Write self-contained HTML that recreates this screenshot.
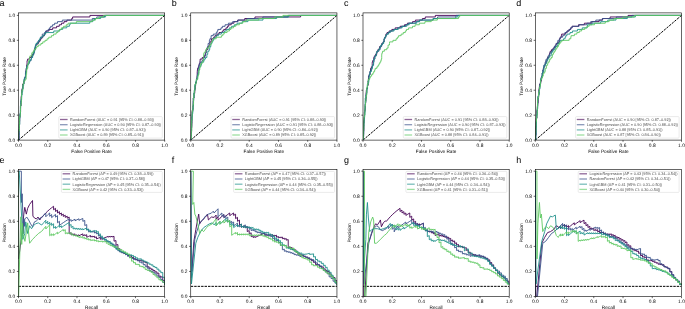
<!DOCTYPE html>
<html><head><meta charset="utf-8"><style>
html,body{margin:0;padding:0;background:#fff;}
svg{display:block;font-family:"Liberation Sans", sans-serif;will-change:transform;text-rendering:geometricPrecision;}
</style></head><body>
<svg width="685" height="309" viewBox="0 0 685 309">
<rect width="685" height="309" fill="#fff"/>
<text transform="translate(-0.45,6.10) skewX(0.06)" font-size="9" fill="#000">a</text>
<clipPath id="cp00"><rect x="18.5" y="12.9" width="146.2" height="127.19999999999999"/></clipPath>
<g clip-path="url(#cp00)">
<line x1="18.50" y1="140.10" x2="164.70" y2="15.40" stroke="#000" stroke-width="1.0" stroke-dasharray="2.45 1.0"/>
<polyline points="18.50,140.10 18.50,138.54 19.00,138.54 19.00,136.98 19.00,135.42 19.00,133.86 19.00,132.31 19.00,130.75 19.09,130.75 19.09,129.19 19.32,129.19 19.32,127.63 19.32,126.07 19.32,124.51 19.58,124.51 19.58,122.95 19.58,121.39 19.69,121.39 19.69,119.84 19.69,118.28 19.69,116.72 20.01,116.72 20.01,115.16 20.01,113.60 20.51,113.60 20.51,112.04 20.58,112.04 20.58,110.48 20.58,108.92 20.58,107.37 20.58,105.81 21.12,105.81 21.12,104.25 21.12,102.69 21.12,101.13 21.12,99.57 21.12,98.01 21.12,96.45 21.45,96.45 21.45,94.90 21.71,94.90 21.71,93.34 21.71,91.78 21.83,91.78 21.83,90.22 22.03,90.22 22.03,88.66 22.53,88.66 22.53,87.10 22.61,87.10 22.61,85.54 22.61,83.98 23.84,83.98 23.84,82.43 23.84,80.87 24.43,80.87 24.43,79.31 24.44,79.31 24.44,77.75 25.56,77.75 25.56,76.19 25.59,76.19 25.59,74.63 25.59,73.07 25.59,71.51 25.96,71.51 25.96,69.96 26.12,69.96 26.12,68.40 26.57,68.40 26.57,66.84 26.57,65.28 26.97,65.28 26.97,63.72 27.06,63.72 27.06,62.16 27.06,60.60 27.63,60.60 27.63,59.04 29.55,59.04 29.55,57.49 31.37,57.49 31.37,55.93 32.22,55.93 32.22,54.37 33.56,54.37 33.56,52.81 33.80,52.81 33.80,51.25 34.42,51.25 34.42,49.69 35.44,49.69 35.44,48.13 35.44,46.57 35.47,46.57 35.47,45.02 37.12,45.02 37.12,43.46 38.52,43.46 38.52,41.90 39.69,41.90 39.69,40.34 40.54,40.34 40.54,38.78 41.79,38.78 41.79,37.22 43.04,37.22 43.04,35.66 44.52,35.66 44.52,34.10 45.27,34.10 45.27,32.55 46.16,32.55 46.16,30.99 49.03,30.99 49.03,29.43 52.66,29.43 52.66,27.87 56.58,27.87 56.58,26.31 59.26,26.31 59.26,24.75 61.46,24.75 61.46,23.19 64.00,23.19 64.00,21.63 66.88,21.63 66.88,20.08 71.70,20.08 71.70,18.52 72.63,18.52 72.63,16.96 89.93,16.96 89.93,15.40 164.70,15.40" fill="none" stroke="#440154" stroke-width="1.0" stroke-opacity="0.9" stroke-linejoin="miter"/>
<polyline points="18.50,140.10 19.06,140.10 19.06,138.54 19.12,138.54 19.12,136.98 19.12,135.42 19.12,133.86 19.17,133.86 19.17,132.31 19.17,130.75 19.17,129.19 19.17,127.63 19.17,127.63 19.17,126.07 19.24,126.07 19.24,124.51 19.28,124.51 19.28,122.95 19.28,121.39 19.31,121.39 19.31,119.84 19.38,119.84 19.38,118.28 19.89,118.28 19.89,116.72 20.33,116.72 20.33,115.16 20.39,115.16 20.39,113.60 20.39,112.04 20.39,110.48 20.39,108.92 20.39,107.37 20.39,105.81 20.57,105.81 20.57,104.25 20.57,102.69 20.76,102.69 20.76,101.13 21.51,101.13 21.51,99.57 21.51,98.01 21.51,96.45 21.51,94.90 21.51,93.34 21.73,93.34 21.73,91.78 21.73,90.22 22.37,90.22 22.37,88.66 23.16,88.66 23.16,87.10 23.16,85.54 23.16,83.98 23.90,83.98 23.90,82.43 24.08,82.43 24.08,80.87 24.38,80.87 24.38,79.31 24.96,79.31 24.96,77.75 25.11,77.75 25.11,76.19 25.45,76.19 25.45,74.63 25.45,73.07 26.30,73.07 26.30,71.51 26.59,71.51 26.59,69.96 26.59,68.40 26.97,68.40 26.97,66.84 27.37,66.84 27.37,65.28 27.97,65.28 27.97,63.72 28.94,63.72 28.94,62.16 29.78,62.16 29.78,60.60 31.12,60.60 31.12,59.04 31.40,59.04 31.40,57.49 32.56,57.49 32.56,55.93 32.79,55.93 32.79,54.37 33.97,54.37 33.97,52.81 34.30,52.81 34.30,51.25 34.30,49.69 34.54,49.69 34.54,48.13 35.26,48.13 35.26,46.57 35.59,46.57 35.59,45.02 36.47,45.02 36.47,43.46 37.25,43.46 37.25,41.90 38.47,41.90 38.47,40.34 40.00,40.34 40.00,38.78 40.37,38.78 40.37,37.22 42.13,37.22 42.13,35.66 42.27,35.66 42.27,34.10 44.45,34.10 44.45,32.55 45.62,32.55 45.62,30.99 48.10,30.99 48.10,29.43 49.37,29.43 49.37,27.87 50.69,27.87 50.69,26.31 52.57,26.31 52.57,24.75 54.60,24.75 54.60,23.19 57.52,23.19 57.52,21.63 62.37,21.63 62.37,20.08 92.28,20.08 92.28,18.52 96.75,18.52 96.75,16.96 104.52,16.96 104.52,15.40 164.70,15.40" fill="none" stroke="#3b528b" stroke-width="1.0" stroke-opacity="0.9" stroke-linejoin="miter"/>
<polyline points="18.50,140.10 18.50,138.54 18.64,138.54 18.64,136.98 18.64,135.42 18.83,135.42 18.83,133.86 18.92,133.86 18.92,132.31 18.92,130.75 18.92,129.19 19.37,129.19 19.37,127.63 19.37,126.07 19.37,124.51 19.76,124.51 19.76,122.95 19.76,121.39 19.78,121.39 19.78,119.84 19.78,118.28 19.79,118.28 19.79,116.72 19.79,115.16 20.03,115.16 20.03,113.60 20.42,113.60 20.42,112.04 20.42,110.48 20.52,110.48 20.52,108.92 20.56,108.92 20.56,107.37 20.56,105.81 20.91,105.81 20.91,104.25 20.91,102.69 20.91,101.13 20.91,99.57 21.64,99.57 21.64,98.01 21.64,96.45 21.78,96.45 21.78,94.90 22.16,94.90 22.16,93.34 22.18,93.34 22.18,91.78 22.64,91.78 22.64,90.22 22.64,88.66 22.92,88.66 22.92,87.10 22.92,85.54 23.66,85.54 23.66,83.98 23.88,83.98 23.88,82.43 23.88,80.87 23.88,79.31 24.48,79.31 24.48,77.75 25.63,77.75 25.63,76.19 25.63,74.63 25.77,74.63 25.77,73.07 25.77,71.51 26.17,71.51 26.17,69.96 26.30,69.96 26.30,68.40 26.53,68.40 26.53,66.84 27.20,66.84 27.20,65.28 27.97,65.28 27.97,63.72 29.13,63.72 29.13,62.16 29.65,62.16 29.65,60.60 30.72,60.60 30.72,59.04 31.53,59.04 31.53,57.49 32.58,57.49 32.58,55.93 33.10,55.93 33.10,54.37 33.14,54.37 33.14,52.81 34.29,52.81 34.29,51.25 34.74,51.25 34.74,49.69 35.00,49.69 35.00,48.13 35.00,46.57 35.46,46.57 35.46,45.02 36.04,45.02 36.04,43.46 37.93,43.46 37.93,41.90 38.80,41.90 38.80,40.34 39.63,40.34 39.63,38.78 40.54,38.78 40.54,37.22 42.63,37.22 42.63,35.66 44.40,35.66 44.40,34.10 45.69,34.10 45.69,32.55 53.78,32.55 53.78,30.99 59.85,30.99 59.85,29.43 62.66,29.43 62.66,27.87 66.79,27.87 66.79,26.31 69.38,26.31 69.38,24.75 70.17,24.75 70.17,23.19 89.83,23.19 89.83,21.63 92.84,21.63 92.84,20.08 94.51,20.08 94.51,18.52 100.61,18.52 100.61,16.96 105.62,16.96 105.62,15.40 164.70,15.40" fill="none" stroke="#21918c" stroke-width="1.0" stroke-opacity="0.9" stroke-linejoin="miter"/>
<polyline points="18.50,140.10 18.50,138.54 18.50,136.98 18.53,136.98 18.53,135.42 18.53,133.86 18.53,132.31 18.73,132.31 18.73,130.75 19.40,130.75 19.40,129.19 19.40,127.63 19.40,126.07 19.40,124.51 19.40,122.95 19.40,121.39 19.40,119.84 19.40,118.28 19.40,116.72 20.25,116.72 20.25,115.16 20.25,115.16 20.25,113.60 20.35,113.60 20.35,112.04 20.46,112.04 20.46,110.48 20.46,108.92 20.46,107.37 20.63,107.37 20.63,105.81 20.88,105.81 20.88,104.25 21.15,104.25 21.15,102.69 21.34,102.69 21.34,101.13 21.34,99.57 21.34,98.01 21.57,98.01 21.57,96.45 21.57,94.90 21.57,93.34 21.90,93.34 21.90,91.78 21.90,90.22 22.87,90.22 22.87,88.66 23.00,88.66 23.00,87.10 23.00,85.54 23.00,83.98 23.92,83.98 23.92,82.43 23.92,80.87 25.18,80.87 25.18,79.31 26.19,79.31 26.19,77.75 26.19,76.19 26.19,74.63 26.60,74.63 26.60,73.07 26.64,73.07 26.64,71.51 26.64,69.96 26.96,69.96 26.96,68.40 27.78,68.40 27.78,66.84 27.78,65.28 27.78,63.72 28.56,63.72 28.56,62.16 28.56,62.16 28.56,60.60 29.26,60.60 29.26,59.04 29.59,59.04 29.59,57.49 29.90,57.49 29.90,55.93 31.71,55.93 31.71,54.37 31.81,54.37 31.81,52.81 33.14,52.81 33.14,51.25 34.01,51.25 34.01,49.69 35.63,49.69 35.63,48.13 36.63,48.13 36.63,46.57 38.28,46.57 38.28,45.02 40.93,45.02 40.93,43.46 42.79,43.46 42.79,41.90 45.02,41.90 45.02,40.34 47.10,40.34 47.10,38.78 48.78,38.78 48.78,37.22 51.42,37.22 51.42,35.66 53.56,35.66 53.56,34.10 56.14,34.10 56.14,32.55 57.89,32.55 57.89,30.99 59.31,30.99 59.31,29.43 61.40,29.43 61.40,27.87 63.56,27.87 63.56,26.31 66.23,26.31 66.23,24.75 68.08,24.75 68.08,23.19 76.35,23.19 76.35,21.63 92.17,21.63 92.17,20.08 95.54,20.08 95.54,18.52 98.93,18.52 98.93,16.96 103.53,16.96 103.53,15.40 164.70,15.40" fill="none" stroke="#5ec962" stroke-width="1.0" stroke-opacity="0.9" stroke-linejoin="miter"/>
</g>
<rect x="18.50" y="12.90" width="146.20" height="127.20" fill="none" stroke="#000" stroke-width="0.6"/>
<line x1="18.50" y1="140.10" x2="18.50" y2="141.75" stroke="#000" stroke-width="0.6"/>
<line x1="18.50" y1="140.10" x2="16.85" y2="140.10" stroke="#000" stroke-width="0.6"/>
<text transform="translate(18.50,146.60) skewX(0.06)" font-size="4.9" text-anchor="middle">0.0</text>
<text transform="translate(15.20,141.80) skewX(0.06)" font-size="4.9" text-anchor="end">0.0</text>
<line x1="47.74" y1="140.10" x2="47.74" y2="141.75" stroke="#000" stroke-width="0.6"/>
<line x1="18.50" y1="115.16" x2="16.85" y2="115.16" stroke="#000" stroke-width="0.6"/>
<text transform="translate(47.74,146.60) skewX(0.06)" font-size="4.9" text-anchor="middle">0.2</text>
<text transform="translate(15.20,116.86) skewX(0.06)" font-size="4.9" text-anchor="end">0.2</text>
<line x1="76.98" y1="140.10" x2="76.98" y2="141.75" stroke="#000" stroke-width="0.6"/>
<line x1="18.50" y1="90.22" x2="16.85" y2="90.22" stroke="#000" stroke-width="0.6"/>
<text transform="translate(76.98,146.60) skewX(0.06)" font-size="4.9" text-anchor="middle">0.4</text>
<text transform="translate(15.20,91.92) skewX(0.06)" font-size="4.9" text-anchor="end">0.4</text>
<line x1="106.22" y1="140.10" x2="106.22" y2="141.75" stroke="#000" stroke-width="0.6"/>
<line x1="18.50" y1="65.28" x2="16.85" y2="65.28" stroke="#000" stroke-width="0.6"/>
<text transform="translate(106.22,146.60) skewX(0.06)" font-size="4.9" text-anchor="middle">0.6</text>
<text transform="translate(15.20,66.98) skewX(0.06)" font-size="4.9" text-anchor="end">0.6</text>
<line x1="135.46" y1="140.10" x2="135.46" y2="141.75" stroke="#000" stroke-width="0.6"/>
<line x1="18.50" y1="40.34" x2="16.85" y2="40.34" stroke="#000" stroke-width="0.6"/>
<text transform="translate(135.46,146.60) skewX(0.06)" font-size="4.9" text-anchor="middle">0.8</text>
<text transform="translate(15.20,42.04) skewX(0.06)" font-size="4.9" text-anchor="end">0.8</text>
<line x1="164.70" y1="140.10" x2="164.70" y2="141.75" stroke="#000" stroke-width="0.6"/>
<line x1="18.50" y1="15.40" x2="16.85" y2="15.40" stroke="#000" stroke-width="0.6"/>
<text transform="translate(164.70,146.60) skewX(0.06)" font-size="4.9" text-anchor="middle">1.0</text>
<text transform="translate(15.20,17.10) skewX(0.06)" font-size="4.9" text-anchor="end">1.0</text>
<text transform="translate(91.60,152.50) skewX(0.06)" font-size="4.72" text-anchor="middle">False Positive Rate</text>
<text transform="translate(6.20,76.50) rotate(-90) skewX(0.06)" font-size="4.72" text-anchor="middle">True Positive Rate</text>
<rect x="58.80" y="116.60" width="103.50" height="21.50" rx="0.9" fill="#fff" fill-opacity="0.8" stroke="#d6d6d6" stroke-width="0.5"/>
<line x1="60.00" y1="119.50" x2="67.60" y2="119.50" stroke="#440154" stroke-width="1.3" stroke-opacity="0.6"/>
<text transform="translate(70.00,120.85) skewX(0.06)" font-size="3.85" fill="#505050">RandomForest (AUC = 0.91 [95% CI: 0.88–0.93])</text>
<line x1="60.00" y1="124.70" x2="67.60" y2="124.70" stroke="#3b528b" stroke-width="1.3" stroke-opacity="0.6"/>
<text transform="translate(70.00,126.05) skewX(0.06)" font-size="3.85" fill="#505050">LogisticRegression (AUC = 0.90 [95% CI: 0.87–0.93])</text>
<line x1="60.00" y1="129.90" x2="67.60" y2="129.90" stroke="#21918c" stroke-width="1.3" stroke-opacity="0.6"/>
<text transform="translate(70.00,131.25) skewX(0.06)" font-size="3.85" fill="#505050">LightGBM (AUC = 0.90 [95% CI: 0.87–0.92])</text>
<line x1="60.00" y1="135.00" x2="67.60" y2="135.00" stroke="#5ec962" stroke-width="1.3" stroke-opacity="0.6"/>
<text transform="translate(70.00,136.35) skewX(0.06)" font-size="3.85" fill="#505050">XGBoost (AUC = 0.89 [95% CI: 0.85–0.91])</text>
<text transform="translate(171.80,6.10) skewX(0.06)" font-size="9" fill="#000">b</text>
<clipPath id="cp01"><rect x="190.75" y="12.9" width="146.2" height="127.19999999999999"/></clipPath>
<g clip-path="url(#cp01)">
<line x1="190.75" y1="140.10" x2="336.95" y2="15.40" stroke="#000" stroke-width="1.0" stroke-dasharray="2.45 1.0"/>
<polyline points="190.75,140.10 190.92,140.10 190.92,138.54 191.12,138.54 191.12,136.98 191.25,136.98 191.25,135.42 191.48,135.42 191.48,133.86 191.48,132.31 191.58,132.31 191.58,130.75 191.58,129.19 191.58,127.63 191.81,127.63 191.81,126.07 191.81,124.51 191.90,124.51 191.90,122.95 191.90,121.39 191.90,119.84 191.90,118.28 191.93,118.28 191.93,116.72 192.08,116.72 192.08,115.16 192.08,113.60 192.08,112.04 192.11,112.04 192.11,110.48 192.97,110.48 192.97,108.92 192.97,107.37 192.97,105.81 193.20,105.81 193.20,104.25 193.20,102.69 193.28,102.69 193.28,101.13 193.28,99.57 193.28,98.01 194.05,98.01 194.05,96.45 194.05,94.90 194.05,93.34 194.75,93.34 194.75,91.78 194.83,91.78 194.83,90.22 194.83,88.66 195.36,88.66 195.36,87.10 195.36,85.54 195.61,85.54 195.61,83.98 195.61,82.43 196.50,82.43 196.50,80.87 196.50,79.31 197.03,79.31 197.03,77.75 197.21,77.75 197.21,76.19 197.21,74.63 197.21,73.07 197.21,71.51 197.37,71.51 197.37,69.96 197.54,69.96 197.54,68.40 198.26,68.40 198.26,66.84 199.12,66.84 199.12,65.28 199.12,63.72 199.98,63.72 199.98,62.16 199.98,60.60 200.17,60.60 200.17,59.04 202.23,59.04 202.23,57.49 204.17,57.49 204.17,55.93 205.26,55.93 205.26,54.37 205.63,54.37 205.63,52.81 206.08,52.81 206.08,51.25 206.08,49.69 207.81,49.69 207.81,48.13 207.81,46.57 209.11,46.57 209.11,45.02 209.94,45.02 209.94,43.46 209.94,41.90 211.26,41.90 211.26,40.34 211.46,40.34 211.46,38.78 213.61,38.78 213.61,37.22 214.94,37.22 214.94,35.66 216.93,35.66 216.93,34.10 219.04,34.10 219.04,32.55 222.25,32.55 222.25,30.99 223.74,30.99 223.74,29.43 225.95,29.43 225.95,27.87 227.46,27.87 227.46,26.31 228.72,26.31 228.72,24.75 231.22,24.75 231.22,23.19 233.96,23.19 233.96,21.63 237.61,21.63 237.61,20.08 244.73,20.08 244.73,18.52 254.94,18.52 254.94,16.96 300.64,16.96 300.64,15.40 336.95,15.40" fill="none" stroke="#440154" stroke-width="1.0" stroke-opacity="0.9" stroke-linejoin="miter"/>
<polyline points="190.75,140.10 191.12,140.10 191.12,138.54 191.22,138.54 191.22,136.98 191.22,135.42 191.22,133.86 191.22,132.31 191.28,132.31 191.28,130.75 191.28,129.19 191.53,129.19 191.53,127.63 191.53,126.07 191.68,126.07 191.68,124.51 191.68,122.95 191.87,122.95 191.87,121.39 191.91,121.39 191.91,119.84 191.91,118.28 191.92,118.28 191.92,116.72 192.21,116.72 192.21,115.16 192.21,113.60 192.30,113.60 192.30,112.04 192.72,112.04 192.72,110.48 192.72,108.92 192.96,108.92 192.96,107.37 192.96,105.81 193.26,105.81 193.26,104.25 193.26,102.69 193.26,101.13 193.65,101.13 193.65,99.57 193.82,99.57 193.82,98.01 193.82,96.45 193.82,94.90 193.82,93.34 194.34,93.34 194.34,91.78 194.34,90.22 195.14,90.22 195.14,88.66 195.14,87.10 195.14,85.54 195.58,85.54 195.58,83.98 195.58,82.43 196.49,82.43 196.49,80.87 196.72,80.87 196.72,79.31 196.72,77.75 196.95,77.75 196.95,76.19 197.30,76.19 197.30,74.63 197.72,74.63 197.72,73.07 198.21,73.07 198.21,71.51 198.21,69.96 198.21,68.40 198.65,68.40 198.65,66.84 198.65,65.28 199.69,65.28 199.69,63.72 200.04,63.72 200.04,62.16 201.98,62.16 201.98,60.60 203.12,60.60 203.12,59.04 203.65,59.04 203.65,57.49 204.87,57.49 204.87,55.93 205.05,55.93 205.05,54.37 205.50,54.37 205.50,52.81 206.30,52.81 206.30,51.25 206.30,49.69 206.61,49.69 206.61,48.13 207.76,48.13 207.76,46.57 208.13,46.57 208.13,45.02 208.13,43.46 209.36,43.46 209.36,41.90 209.36,40.34 209.88,40.34 209.88,38.78 211.00,38.78 211.00,37.22 211.11,37.22 211.11,35.66 213.31,35.66 213.31,34.10 216.22,34.10 216.22,32.55 217.17,32.55 217.17,30.99 217.86,30.99 217.86,29.43 220.96,29.43 220.96,27.87 222.36,27.87 222.36,26.31 225.09,26.31 225.09,24.75 228.38,24.75 228.38,23.19 232.65,23.19 232.65,21.63 238.01,21.63 238.01,20.08 247.00,20.08 247.00,18.52 262.85,18.52 262.85,16.96 287.91,16.96 287.91,15.40 336.95,15.40" fill="none" stroke="#3b528b" stroke-width="1.0" stroke-opacity="0.9" stroke-linejoin="miter"/>
<polyline points="190.75,140.10 190.75,138.54 190.75,136.98 191.08,136.98 191.08,135.42 191.08,133.86 191.08,132.31 191.08,130.75 191.08,129.19 191.24,129.19 191.24,127.63 191.24,126.07 191.29,126.07 191.29,124.51 191.29,122.95 191.29,121.39 191.55,121.39 191.55,119.84 192.14,119.84 192.14,118.28 192.14,116.72 192.14,115.16 192.27,115.16 192.27,113.60 192.76,113.60 192.76,112.04 192.76,110.48 192.76,108.92 193.17,108.92 193.17,107.37 193.17,105.81 193.28,105.81 193.28,104.25 193.28,102.69 193.28,101.13 193.28,99.57 193.28,98.01 193.99,98.01 193.99,96.45 193.99,94.90 194.06,94.90 194.06,93.34 194.35,93.34 194.35,91.78 194.35,90.22 194.66,90.22 194.66,88.66 194.66,87.10 194.66,85.54 195.06,85.54 195.06,83.98 195.90,83.98 195.90,82.43 195.90,80.87 196.41,80.87 196.41,79.31 197.40,79.31 197.40,77.75 197.58,77.75 197.58,76.19 197.73,76.19 197.73,74.63 198.65,74.63 198.65,73.07 198.87,73.07 198.87,71.51 198.87,69.96 199.39,69.96 199.39,68.40 199.67,68.40 199.67,66.84 200.75,66.84 200.75,65.28 201.36,65.28 201.36,63.72 201.62,63.72 201.62,62.16 203.71,62.16 203.71,60.60 204.21,60.60 204.21,59.04 205.54,59.04 205.54,57.49 206.88,57.49 206.88,55.93 206.88,54.37 207.73,54.37 207.73,52.81 207.79,52.81 207.79,51.25 209.06,51.25 209.06,49.69 209.70,49.69 209.70,48.13 209.99,48.13 209.99,46.57 210.87,46.57 210.87,45.02 210.87,43.46 211.98,43.46 211.98,41.90 212.76,41.90 212.76,40.34 213.63,40.34 213.63,38.78 214.69,38.78 214.69,37.22 216.38,37.22 216.38,35.66 218.41,35.66 218.41,34.10 221.36,34.10 221.36,32.55 224.58,32.55 224.58,30.99 226.22,30.99 226.22,29.43 229.30,29.43 229.30,27.87 231.58,27.87 231.58,26.31 234.32,26.31 234.32,24.75 237.03,24.75 237.03,23.19 242.17,23.19 242.17,21.63 247.95,21.63 247.95,20.08 263.01,20.08 263.01,18.52 276.66,18.52 276.66,16.96 288.76,16.96 288.76,15.40 336.95,15.40" fill="none" stroke="#21918c" stroke-width="1.0" stroke-opacity="0.9" stroke-linejoin="miter"/>
<polyline points="190.75,140.10 190.75,138.54 191.38,138.54 191.38,136.98 191.38,135.42 191.38,133.86 191.38,132.31 191.38,130.75 191.74,130.75 191.74,129.19 191.74,127.63 191.74,126.07 191.74,124.51 191.74,122.95 191.74,121.39 191.74,119.84 192.14,119.84 192.14,118.28 192.14,116.72 192.14,115.16 192.14,113.60 192.14,112.04 192.26,112.04 192.26,110.48 192.96,110.48 192.96,108.92 192.96,107.37 192.96,105.81 192.96,104.25 193.56,104.25 193.56,102.69 193.56,101.13 193.56,99.57 193.56,98.01 193.80,98.01 193.80,96.45 193.80,94.90 194.19,94.90 194.19,93.34 194.19,91.78 194.57,91.78 194.57,90.22 195.08,90.22 195.08,88.66 195.08,87.10 195.08,85.54 195.08,83.98 196.21,83.98 196.21,82.43 196.21,80.87 196.27,80.87 196.27,79.31 197.82,79.31 197.82,77.75 197.82,76.19 198.23,76.19 198.23,74.63 198.75,74.63 198.75,73.07 198.75,71.51 198.80,71.51 198.80,69.96 199.75,69.96 199.75,68.40 199.75,66.84 200.62,66.84 200.62,65.28 200.62,63.72 202.09,63.72 202.09,62.16 202.88,62.16 202.88,60.60 203.54,60.60 203.54,59.04 203.54,57.49 203.54,55.93 203.54,54.37 203.86,54.37 203.86,52.81 205.08,52.81 205.08,51.25 205.84,51.25 205.84,49.69 206.54,49.69 206.54,48.13 208.76,48.13 208.76,46.57 209.55,46.57 209.55,45.02 211.02,45.02 211.02,43.46 211.43,43.46 211.43,41.90 212.35,41.90 212.35,40.34 212.96,40.34 212.96,38.78 216.18,38.78 216.18,37.22 221.41,37.22 221.41,35.66 222.84,35.66 222.84,34.10 224.18,34.10 224.18,32.55 227.05,32.55 227.05,30.99 229.45,30.99 229.45,29.43 230.95,29.43 230.95,27.87 233.55,27.87 233.55,26.31 235.74,26.31 235.74,24.75 239.40,24.75 239.40,23.19 242.85,23.19 242.85,21.63 245.86,21.63 245.86,20.08 258.87,20.08 258.87,18.52 274.47,18.52 274.47,16.96 282.93,16.96 282.93,15.40 336.95,15.40" fill="none" stroke="#5ec962" stroke-width="1.0" stroke-opacity="0.9" stroke-linejoin="miter"/>
</g>
<rect x="190.75" y="12.90" width="146.20" height="127.20" fill="none" stroke="#000" stroke-width="0.6"/>
<line x1="190.75" y1="140.10" x2="190.75" y2="141.75" stroke="#000" stroke-width="0.6"/>
<line x1="190.75" y1="140.10" x2="189.10" y2="140.10" stroke="#000" stroke-width="0.6"/>
<text transform="translate(190.75,146.60) skewX(0.06)" font-size="4.9" text-anchor="middle">0.0</text>
<text transform="translate(187.45,141.80) skewX(0.06)" font-size="4.9" text-anchor="end">0.0</text>
<line x1="219.99" y1="140.10" x2="219.99" y2="141.75" stroke="#000" stroke-width="0.6"/>
<line x1="190.75" y1="115.16" x2="189.10" y2="115.16" stroke="#000" stroke-width="0.6"/>
<text transform="translate(219.99,146.60) skewX(0.06)" font-size="4.9" text-anchor="middle">0.2</text>
<text transform="translate(187.45,116.86) skewX(0.06)" font-size="4.9" text-anchor="end">0.2</text>
<line x1="249.23" y1="140.10" x2="249.23" y2="141.75" stroke="#000" stroke-width="0.6"/>
<line x1="190.75" y1="90.22" x2="189.10" y2="90.22" stroke="#000" stroke-width="0.6"/>
<text transform="translate(249.23,146.60) skewX(0.06)" font-size="4.9" text-anchor="middle">0.4</text>
<text transform="translate(187.45,91.92) skewX(0.06)" font-size="4.9" text-anchor="end">0.4</text>
<line x1="278.47" y1="140.10" x2="278.47" y2="141.75" stroke="#000" stroke-width="0.6"/>
<line x1="190.75" y1="65.28" x2="189.10" y2="65.28" stroke="#000" stroke-width="0.6"/>
<text transform="translate(278.47,146.60) skewX(0.06)" font-size="4.9" text-anchor="middle">0.6</text>
<text transform="translate(187.45,66.98) skewX(0.06)" font-size="4.9" text-anchor="end">0.6</text>
<line x1="307.71" y1="140.10" x2="307.71" y2="141.75" stroke="#000" stroke-width="0.6"/>
<line x1="190.75" y1="40.34" x2="189.10" y2="40.34" stroke="#000" stroke-width="0.6"/>
<text transform="translate(307.71,146.60) skewX(0.06)" font-size="4.9" text-anchor="middle">0.8</text>
<text transform="translate(187.45,42.04) skewX(0.06)" font-size="4.9" text-anchor="end">0.8</text>
<line x1="336.95" y1="140.10" x2="336.95" y2="141.75" stroke="#000" stroke-width="0.6"/>
<line x1="190.75" y1="15.40" x2="189.10" y2="15.40" stroke="#000" stroke-width="0.6"/>
<text transform="translate(336.95,146.60) skewX(0.06)" font-size="4.9" text-anchor="middle">1.0</text>
<text transform="translate(187.45,17.10) skewX(0.06)" font-size="4.9" text-anchor="end">1.0</text>
<text transform="translate(263.85,152.50) skewX(0.06)" font-size="4.72" text-anchor="middle">False Positive Rate</text>
<text transform="translate(178.45,76.50) rotate(-90) skewX(0.06)" font-size="4.72" text-anchor="middle">True Positive Rate</text>
<rect x="231.05" y="116.60" width="103.50" height="21.50" rx="0.9" fill="#fff" fill-opacity="0.8" stroke="#d6d6d6" stroke-width="0.5"/>
<line x1="232.25" y1="119.50" x2="239.85" y2="119.50" stroke="#440154" stroke-width="1.3" stroke-opacity="0.6"/>
<text transform="translate(242.25,120.85) skewX(0.06)" font-size="3.85" fill="#505050">RandomForest (AUC = 0.91 [95% CI: 0.88–0.93])</text>
<line x1="232.25" y1="124.70" x2="239.85" y2="124.70" stroke="#3b528b" stroke-width="1.3" stroke-opacity="0.6"/>
<text transform="translate(242.25,126.05) skewX(0.06)" font-size="3.85" fill="#505050">LogisticRegression (AUC = 0.91 [95% CI: 0.88–0.93])</text>
<line x1="232.25" y1="129.90" x2="239.85" y2="129.90" stroke="#21918c" stroke-width="1.3" stroke-opacity="0.6"/>
<text transform="translate(242.25,131.25) skewX(0.06)" font-size="3.85" fill="#505050">LightGBM (AUC = 0.90 [95% CI: 0.86–0.92])</text>
<line x1="232.25" y1="135.00" x2="239.85" y2="135.00" stroke="#5ec962" stroke-width="1.3" stroke-opacity="0.6"/>
<text transform="translate(242.25,136.35) skewX(0.06)" font-size="3.85" fill="#505050">XGBoost (AUC = 0.89 [95% CI: 0.85–0.92])</text>
<text transform="translate(344.05,6.10) skewX(0.06)" font-size="9" fill="#000">c</text>
<clipPath id="cp02"><rect x="363.0" y="12.9" width="146.2" height="127.19999999999999"/></clipPath>
<g clip-path="url(#cp02)">
<line x1="363.00" y1="140.10" x2="509.20" y2="15.40" stroke="#000" stroke-width="1.0" stroke-dasharray="2.45 1.0"/>
<polyline points="363.00,140.10 363.00,138.54 363.00,136.98 363.00,135.42 363.64,135.42 363.64,133.86 363.64,132.31 363.64,130.75 363.87,130.75 363.87,129.19 363.87,127.63 363.87,126.07 363.87,124.51 363.87,122.95 363.87,121.39 364.13,121.39 364.13,119.84 364.13,118.28 364.39,118.28 364.39,116.72 364.39,115.16 364.39,113.60 364.39,112.04 364.62,112.04 364.62,110.48 365.23,110.48 365.23,108.92 365.23,107.37 365.30,107.37 365.30,105.81 365.30,104.25 365.53,104.25 365.53,102.69 365.53,101.13 365.53,99.57 365.91,99.57 365.91,98.01 366.13,98.01 366.13,96.45 366.13,94.90 366.13,93.34 366.16,93.34 366.16,91.78 366.31,91.78 366.31,90.22 366.60,90.22 366.60,88.66 367.43,88.66 367.43,87.10 367.43,85.54 368.10,85.54 368.10,83.98 368.39,83.98 368.39,82.43 368.39,80.87 368.39,79.31 368.48,79.31 368.48,77.75 368.48,76.19 369.18,76.19 369.18,74.63 370.14,74.63 370.14,73.07 370.14,71.51 370.55,71.51 370.55,69.96 370.55,68.40 371.37,68.40 371.37,66.84 372.21,66.84 372.21,65.28 372.21,63.72 372.21,62.16 372.66,62.16 372.66,60.60 373.73,60.60 373.73,59.04 373.73,57.49 374.33,57.49 374.33,55.93 375.52,55.93 375.52,54.37 376.79,54.37 376.79,52.81 376.99,52.81 376.99,51.25 377.83,51.25 377.83,49.69 379.15,49.69 379.15,48.13 379.55,48.13 379.55,46.57 381.16,46.57 381.16,45.02 381.72,45.02 381.72,43.46 383.11,43.46 383.11,41.90 384.10,41.90 384.10,40.34 384.10,38.78 384.80,38.78 384.80,37.22 385.64,37.22 385.64,35.66 385.89,35.66 385.89,34.10 387.02,34.10 387.02,32.55 389.04,32.55 389.04,30.99 391.84,30.99 391.84,29.43 395.17,29.43 395.17,27.87 400.02,27.87 400.02,26.31 404.46,26.31 404.46,24.75 407.38,24.75 407.38,23.19 412.54,23.19 412.54,21.63 415.39,21.63 415.39,20.08 422.37,20.08 422.37,18.52 425.28,18.52 425.28,16.96 435.34,16.96 435.34,15.40 509.20,15.40" fill="none" stroke="#440154" stroke-width="1.0" stroke-opacity="0.9" stroke-linejoin="miter"/>
<polyline points="363.00,140.10 363.11,140.10 363.11,138.54 363.11,136.98 363.24,136.98 363.24,135.42 363.24,133.86 363.64,133.86 363.64,132.31 363.72,132.31 363.72,130.75 363.72,129.19 363.72,127.63 363.72,126.07 363.72,124.51 363.72,122.95 364.30,122.95 364.30,121.39 364.47,121.39 364.47,119.84 364.47,118.28 364.55,118.28 364.55,116.72 364.55,115.16 364.55,113.60 364.55,112.04 364.82,112.04 364.82,110.48 364.82,108.92 365.08,108.92 365.08,107.37 365.17,107.37 365.17,105.81 365.17,104.25 365.55,104.25 365.55,102.69 365.96,102.69 365.96,101.13 366.10,101.13 366.10,99.57 366.10,98.01 366.10,96.45 366.10,94.90 366.10,93.34 366.95,93.34 366.95,91.78 366.95,90.22 366.95,88.66 367.54,88.66 367.54,87.10 367.54,85.54 367.71,85.54 367.71,83.98 367.87,83.98 367.87,82.43 367.87,80.87 368.47,80.87 368.47,79.31 368.90,79.31 368.90,77.75 368.90,76.19 369.11,76.19 369.11,74.63 369.79,74.63 369.79,73.07 369.82,73.07 369.82,71.51 370.83,71.51 370.83,69.96 371.77,69.96 371.77,68.40 372.17,68.40 372.17,66.84 372.61,66.84 372.61,65.28 373.57,65.28 373.57,63.72 373.57,62.16 374.02,62.16 374.02,60.60 374.16,60.60 374.16,59.04 374.79,59.04 374.79,57.49 374.79,55.93 376.21,55.93 376.21,54.37 376.24,54.37 376.24,52.81 377.14,52.81 377.14,51.25 378.91,51.25 378.91,49.69 380.11,49.69 380.11,48.13 380.55,48.13 380.55,46.57 381.57,46.57 381.57,45.02 382.41,45.02 382.41,43.46 383.06,43.46 383.06,41.90 384.04,41.90 384.04,40.34 384.11,40.34 384.11,38.78 384.75,38.78 384.75,37.22 385.92,37.22 385.92,35.66 386.41,35.66 386.41,34.10 388.15,34.10 388.15,32.55 390.19,32.55 390.19,30.99 393.20,30.99 393.20,29.43 397.32,29.43 397.32,27.87 401.32,27.87 401.32,26.31 405.58,26.31 405.58,24.75 408.30,24.75 408.30,23.19 415.90,23.19 415.90,21.63 419.62,21.63 419.62,20.08 433.18,20.08 433.18,18.52 437.56,18.52 437.56,16.96 455.94,16.96 455.94,15.40 509.20,15.40" fill="none" stroke="#3b528b" stroke-width="1.0" stroke-opacity="0.9" stroke-linejoin="miter"/>
<polyline points="363.00,140.10 363.00,138.54 363.16,138.54 363.16,136.98 363.65,136.98 363.65,135.42 363.65,133.86 363.65,132.31 363.65,130.75 363.65,129.19 363.65,127.63 363.70,127.63 363.70,126.07 363.96,126.07 363.96,124.51 363.96,122.95 363.96,121.39 363.96,119.84 364.37,119.84 364.37,118.28 364.37,116.72 364.37,115.16 364.93,115.16 364.93,113.60 365.03,113.60 365.03,112.04 365.03,110.48 365.03,108.92 365.03,107.37 365.03,105.81 365.14,105.81 365.14,104.25 365.14,102.69 365.14,101.13 365.25,101.13 365.25,99.57 365.25,98.01 365.82,98.01 365.82,96.45 365.95,96.45 365.95,94.90 366.62,94.90 366.62,93.34 366.62,91.78 366.81,91.78 366.81,90.22 366.86,90.22 366.86,88.66 367.26,88.66 367.26,87.10 367.31,87.10 367.31,85.54 367.39,85.54 367.39,83.98 368.52,83.98 368.52,82.43 368.81,82.43 368.81,80.87 368.98,80.87 368.98,79.31 369.18,79.31 369.18,77.75 369.18,76.19 369.44,76.19 369.44,74.63 369.97,74.63 369.97,73.07 370.19,73.07 370.19,71.51 371.47,71.51 371.47,69.96 371.51,69.96 371.51,68.40 372.43,68.40 372.43,66.84 372.43,65.28 373.34,65.28 373.34,63.72 373.60,63.72 373.60,62.16 373.60,60.60 373.64,60.60 373.64,59.04 374.95,59.04 374.95,57.49 375.03,57.49 375.03,55.93 376.37,55.93 376.37,54.37 376.43,54.37 376.43,52.81 376.79,52.81 376.79,51.25 378.36,51.25 378.36,49.69 379.57,49.69 379.57,48.13 380.02,48.13 380.02,46.57 380.84,46.57 380.84,45.02 382.17,45.02 382.17,43.46 383.71,43.46 383.71,41.90 384.12,41.90 384.12,40.34 384.12,38.78 384.95,38.78 384.95,37.22 385.65,37.22 385.65,35.66 386.58,35.66 386.58,34.10 388.61,34.10 388.61,32.55 390.08,32.55 390.08,30.99 394.11,30.99 394.11,29.43 398.32,29.43 398.32,27.87 402.18,27.87 402.18,26.31 406.81,26.31 406.81,24.75 409.22,24.75 409.22,23.19 416.76,23.19 416.76,21.63 419.38,21.63 419.38,20.08 433.08,20.08 433.08,18.52 455.79,18.52 455.79,16.96 457.93,16.96 457.93,15.40 509.20,15.40" fill="none" stroke="#21918c" stroke-width="1.0" stroke-opacity="0.9" stroke-linejoin="miter"/>
<polyline points="363.00,140.10 363.00,140.10 363.00,138.54 363.28,138.54 363.28,136.98 363.35,136.98 363.35,135.42 363.35,133.86 363.35,132.31 363.35,130.75 363.35,129.19 363.84,129.19 363.84,127.63 363.84,126.07 363.84,124.51 363.84,122.95 363.96,122.95 363.96,121.39 363.96,119.84 363.96,118.28 363.96,116.72 364.72,116.72 364.72,115.16 364.72,113.60 364.86,113.60 364.86,112.04 364.86,110.48 364.96,110.48 364.96,108.92 364.96,107.37 364.96,105.81 365.51,105.81 365.51,104.25 365.51,102.69 365.51,101.13 366.04,101.13 366.04,99.57 366.04,98.01 366.04,96.45 366.59,96.45 366.59,94.90 366.74,94.90 366.74,93.34 366.74,91.78 366.74,90.22 366.74,88.66 366.85,88.66 366.85,87.10 367.50,87.10 367.50,85.54 367.50,83.98 368.17,83.98 368.17,82.43 368.17,80.87 368.37,80.87 368.37,79.31 369.70,79.31 369.70,77.75 370.38,77.75 370.38,76.19 371.57,76.19 371.57,74.63 372.82,74.63 372.82,73.07 373.72,73.07 373.72,71.51 374.65,71.51 374.65,69.96 375.15,69.96 375.15,68.40 376.86,68.40 376.86,66.84 378.03,66.84 378.03,65.28 379.01,65.28 379.01,63.72 379.89,63.72 379.89,62.16 380.77,62.16 380.77,60.60 381.28,60.60 381.28,59.04 381.68,59.04 381.68,57.49 381.71,57.49 381.71,55.93 381.71,54.37 381.97,54.37 381.97,52.81 382.51,52.81 382.51,51.25 384.36,51.25 384.36,49.69 386.79,49.69 386.79,48.13 388.08,48.13 388.08,46.57 388.08,45.02 389.50,45.02 389.50,43.46 389.56,43.46 389.56,41.90 392.94,41.90 392.94,40.34 396.12,40.34 396.12,38.78 397.39,38.78 397.39,37.22 398.61,37.22 398.61,35.66 401.13,35.66 401.13,34.10 403.22,34.10 403.22,32.55 405.30,32.55 405.30,30.99 406.43,30.99 406.43,29.43 408.59,29.43 408.59,27.87 412.50,27.87 412.50,26.31 415.11,26.31 415.11,24.75 419.35,24.75 419.35,23.19 424.95,23.19 424.95,21.63 431.28,21.63 431.28,20.08 437.35,20.08 437.35,18.52 458.54,18.52 458.54,16.96 459.66,16.96 459.66,15.40 509.20,15.40" fill="none" stroke="#5ec962" stroke-width="1.0" stroke-opacity="0.9" stroke-linejoin="miter"/>
</g>
<rect x="363.00" y="12.90" width="146.20" height="127.20" fill="none" stroke="#000" stroke-width="0.6"/>
<line x1="363.00" y1="140.10" x2="363.00" y2="141.75" stroke="#000" stroke-width="0.6"/>
<line x1="363.00" y1="140.10" x2="361.35" y2="140.10" stroke="#000" stroke-width="0.6"/>
<text transform="translate(363.00,146.60) skewX(0.06)" font-size="4.9" text-anchor="middle">0.0</text>
<text transform="translate(359.70,141.80) skewX(0.06)" font-size="4.9" text-anchor="end">0.0</text>
<line x1="392.24" y1="140.10" x2="392.24" y2="141.75" stroke="#000" stroke-width="0.6"/>
<line x1="363.00" y1="115.16" x2="361.35" y2="115.16" stroke="#000" stroke-width="0.6"/>
<text transform="translate(392.24,146.60) skewX(0.06)" font-size="4.9" text-anchor="middle">0.2</text>
<text transform="translate(359.70,116.86) skewX(0.06)" font-size="4.9" text-anchor="end">0.2</text>
<line x1="421.48" y1="140.10" x2="421.48" y2="141.75" stroke="#000" stroke-width="0.6"/>
<line x1="363.00" y1="90.22" x2="361.35" y2="90.22" stroke="#000" stroke-width="0.6"/>
<text transform="translate(421.48,146.60) skewX(0.06)" font-size="4.9" text-anchor="middle">0.4</text>
<text transform="translate(359.70,91.92) skewX(0.06)" font-size="4.9" text-anchor="end">0.4</text>
<line x1="450.72" y1="140.10" x2="450.72" y2="141.75" stroke="#000" stroke-width="0.6"/>
<line x1="363.00" y1="65.28" x2="361.35" y2="65.28" stroke="#000" stroke-width="0.6"/>
<text transform="translate(450.72,146.60) skewX(0.06)" font-size="4.9" text-anchor="middle">0.6</text>
<text transform="translate(359.70,66.98) skewX(0.06)" font-size="4.9" text-anchor="end">0.6</text>
<line x1="479.96" y1="140.10" x2="479.96" y2="141.75" stroke="#000" stroke-width="0.6"/>
<line x1="363.00" y1="40.34" x2="361.35" y2="40.34" stroke="#000" stroke-width="0.6"/>
<text transform="translate(479.96,146.60) skewX(0.06)" font-size="4.9" text-anchor="middle">0.8</text>
<text transform="translate(359.70,42.04) skewX(0.06)" font-size="4.9" text-anchor="end">0.8</text>
<line x1="509.20" y1="140.10" x2="509.20" y2="141.75" stroke="#000" stroke-width="0.6"/>
<line x1="363.00" y1="15.40" x2="361.35" y2="15.40" stroke="#000" stroke-width="0.6"/>
<text transform="translate(509.20,146.60) skewX(0.06)" font-size="4.9" text-anchor="middle">1.0</text>
<text transform="translate(359.70,17.10) skewX(0.06)" font-size="4.9" text-anchor="end">1.0</text>
<text transform="translate(436.10,152.50) skewX(0.06)" font-size="4.72" text-anchor="middle">False Positive Rate</text>
<text transform="translate(350.70,76.50) rotate(-90) skewX(0.06)" font-size="4.72" text-anchor="middle">True Positive Rate</text>
<rect x="403.30" y="116.60" width="103.50" height="21.50" rx="0.9" fill="#fff" fill-opacity="0.8" stroke="#d6d6d6" stroke-width="0.5"/>
<line x1="404.50" y1="119.50" x2="412.10" y2="119.50" stroke="#440154" stroke-width="1.3" stroke-opacity="0.6"/>
<text transform="translate(414.50,120.85) skewX(0.06)" font-size="3.85" fill="#505050">RandomForest (AUC = 0.91 [95% CI: 0.88–0.93])</text>
<line x1="404.50" y1="124.70" x2="412.10" y2="124.70" stroke="#3b528b" stroke-width="1.3" stroke-opacity="0.6"/>
<text transform="translate(414.50,126.05) skewX(0.06)" font-size="3.85" fill="#505050">LogisticRegression (AUC = 0.90 [95% CI: 0.87–0.93])</text>
<line x1="404.50" y1="129.90" x2="412.10" y2="129.90" stroke="#21918c" stroke-width="1.3" stroke-opacity="0.6"/>
<text transform="translate(414.50,131.25) skewX(0.06)" font-size="3.85" fill="#505050">LightGBM (AUC = 0.90 [95% CI: 0.87–0.92])</text>
<line x1="404.50" y1="135.00" x2="412.10" y2="135.00" stroke="#5ec962" stroke-width="1.3" stroke-opacity="0.6"/>
<text transform="translate(414.50,136.35) skewX(0.06)" font-size="3.85" fill="#505050">XGBoost (AUC = 0.88 [95% CI: 0.84–0.91])</text>
<text transform="translate(516.35,6.10) skewX(0.06)" font-size="9" fill="#000">d</text>
<clipPath id="cp03"><rect x="535.3" y="12.9" width="146.2" height="127.19999999999999"/></clipPath>
<g clip-path="url(#cp03)">
<line x1="535.30" y1="140.10" x2="681.50" y2="15.40" stroke="#000" stroke-width="1.0" stroke-dasharray="2.45 1.0"/>
<polyline points="535.30,140.10 535.30,138.54 535.61,138.54 535.61,136.98 535.67,136.98 535.67,135.42 535.92,135.42 535.92,133.86 535.92,132.31 535.92,130.75 535.92,129.19 535.92,127.63 536.12,127.63 536.12,126.07 536.12,124.51 536.12,122.95 536.12,121.39 536.12,119.84 536.23,119.84 536.23,118.28 536.82,118.28 536.82,116.72 536.82,115.16 536.82,113.60 536.82,112.04 536.82,110.48 537.47,110.48 537.47,108.92 537.52,108.92 537.52,107.37 537.64,107.37 537.64,105.81 537.79,105.81 537.79,104.25 537.83,104.25 537.83,102.69 538.22,102.69 538.22,101.13 538.22,99.57 538.22,98.01 538.58,98.01 538.58,96.45 538.58,94.90 538.82,94.90 538.82,93.34 538.82,91.78 538.86,91.78 538.86,90.22 539.00,90.22 539.00,88.66 539.29,88.66 539.29,87.10 539.44,87.10 539.44,85.54 539.50,85.54 539.50,83.98 540.62,83.98 540.62,82.43 540.88,82.43 540.88,80.87 541.48,80.87 541.48,79.31 541.52,79.31 541.52,77.75 541.75,77.75 541.75,76.19 542.37,76.19 542.37,74.63 542.37,73.07 543.07,73.07 543.07,71.51 543.18,71.51 543.18,69.96 543.26,69.96 543.26,68.40 543.84,68.40 543.84,66.84 544.80,66.84 544.80,65.28 545.07,65.28 545.07,63.72 545.89,63.72 545.89,62.16 546.70,62.16 546.70,60.60 547.12,60.60 547.12,59.04 547.48,59.04 547.48,57.49 548.94,57.49 548.94,55.93 549.17,55.93 549.17,54.37 549.70,54.37 549.70,52.81 550.18,52.81 550.18,51.25 551.44,51.25 551.44,49.69 553.06,49.69 553.06,48.13 554.63,48.13 554.63,46.57 555.87,46.57 555.87,45.02 556.23,45.02 556.23,43.46 558.18,43.46 558.18,41.90 559.57,41.90 559.57,40.34 559.57,38.78 560.19,38.78 560.19,37.22 561.27,37.22 561.27,35.66 561.62,35.66 561.62,34.10 565.70,34.10 565.70,32.55 567.14,32.55 567.14,30.99 568.98,30.99 568.98,29.43 570.76,29.43 570.76,27.87 572.02,27.87 572.02,26.31 578.48,26.31 578.48,24.75 584.35,24.75 584.35,23.19 591.88,23.19 591.88,21.63 599.11,21.63 599.11,20.08 602.62,20.08 602.62,18.52 610.09,18.52 610.09,16.96 628.06,16.96 628.06,15.40 681.50,15.40" fill="none" stroke="#440154" stroke-width="1.0" stroke-opacity="0.9" stroke-linejoin="miter"/>
<polyline points="535.30,140.10 535.30,138.54 535.63,138.54 535.63,136.98 535.63,136.98 535.63,135.42 536.03,135.42 536.03,133.86 536.03,132.31 536.03,130.75 536.03,129.19 536.03,127.63 536.03,126.07 536.13,126.07 536.13,124.51 536.13,122.95 536.39,122.95 536.39,121.39 536.39,119.84 536.39,118.28 536.90,118.28 536.90,116.72 536.90,115.16 536.90,113.60 537.15,113.60 537.15,112.04 537.15,110.48 537.15,108.92 537.22,108.92 537.22,107.37 537.48,107.37 537.48,105.81 537.48,104.25 537.72,104.25 537.72,102.69 537.72,101.13 537.72,99.57 537.72,98.01 537.82,98.01 537.82,96.45 538.88,96.45 538.88,94.90 538.88,93.34 539.31,93.34 539.31,91.78 539.31,90.22 539.31,88.66 539.81,88.66 539.81,87.10 539.88,87.10 539.88,85.54 539.88,83.98 540.35,83.98 540.35,82.43 540.69,82.43 540.69,80.87 540.69,79.31 540.82,79.31 540.82,77.75 542.07,77.75 542.07,76.19 542.07,74.63 542.07,73.07 542.58,73.07 542.58,71.51 542.64,71.51 542.64,69.96 543.65,69.96 543.65,68.40 543.65,66.84 543.70,66.84 543.70,65.28 545.12,65.28 545.12,63.72 545.12,62.16 545.66,62.16 545.66,60.60 546.11,60.60 546.11,59.04 547.79,59.04 547.79,57.49 547.93,57.49 547.93,55.93 549.45,55.93 549.45,54.37 549.98,54.37 549.98,52.81 551.41,52.81 551.41,51.25 552.59,51.25 552.59,49.69 553.35,49.69 553.35,48.13 554.19,48.13 554.19,46.57 555.20,46.57 555.20,45.02 556.19,45.02 556.19,43.46 557.41,43.46 557.41,41.90 557.87,41.90 557.87,40.34 559.35,40.34 559.35,38.78 560.35,38.78 560.35,37.22 562.64,37.22 562.64,35.66 564.29,35.66 564.29,34.10 564.88,34.10 564.88,32.55 566.91,32.55 566.91,30.99 569.26,30.99 569.26,29.43 570.49,29.43 570.49,27.87 572.18,27.87 572.18,26.31 579.09,26.31 579.09,24.75 586.91,24.75 586.91,23.19 590.70,23.19 590.70,21.63 595.82,21.63 595.82,20.08 602.31,20.08 602.31,18.52 616.30,18.52 616.30,16.96 631.92,16.96 631.92,15.40 681.50,15.40" fill="none" stroke="#3b528b" stroke-width="1.0" stroke-opacity="0.9" stroke-linejoin="miter"/>
<polyline points="535.30,140.10 535.87,140.10 535.87,138.54 535.87,136.98 535.87,135.42 535.87,133.86 536.14,133.86 536.14,132.31 536.14,130.75 536.15,130.75 536.15,129.19 536.15,127.63 536.26,127.63 536.26,126.07 536.50,126.07 536.50,124.51 536.50,122.95 536.50,121.39 536.50,119.84 536.50,118.28 536.50,116.72 536.50,115.16 537.09,115.16 537.09,113.60 537.23,113.60 537.23,112.04 537.26,112.04 537.26,110.48 537.26,108.92 537.66,108.92 537.66,107.37 537.66,105.81 537.66,104.25 537.66,102.69 537.66,101.13 537.66,99.57 538.09,99.57 538.09,98.01 538.09,96.45 538.40,96.45 538.40,94.90 539.02,94.90 539.02,93.34 539.02,91.78 539.02,90.22 539.58,90.22 539.58,88.66 539.95,88.66 539.95,87.10 539.95,85.54 540.47,85.54 540.47,83.98 540.47,82.43 540.47,80.87 540.47,79.31 541.65,79.31 541.65,77.75 541.75,77.75 541.75,76.19 542.25,76.19 542.25,74.63 542.25,73.07 542.93,73.07 542.93,71.51 543.85,71.51 543.85,69.96 543.85,68.40 543.95,68.40 543.95,66.84 544.39,66.84 544.39,65.28 545.41,65.28 545.41,63.72 546.36,63.72 546.36,62.16 546.83,62.16 546.83,60.60 547.62,60.60 547.62,59.04 548.70,59.04 548.70,57.49 549.29,57.49 549.29,55.93 551.13,55.93 551.13,54.37 551.37,54.37 551.37,52.81 552.16,52.81 552.16,51.25 553.19,51.25 553.19,49.69 554.94,49.69 554.94,48.13 555.52,48.13 555.52,46.57 557.37,46.57 557.37,45.02 557.92,45.02 557.92,43.46 559.29,43.46 559.29,41.90 560.00,41.90 560.00,40.34 563.50,40.34 563.50,38.78 565.08,38.78 565.08,37.22 565.74,37.22 565.74,35.66 566.95,35.66 566.95,34.10 569.99,34.10 569.99,32.55 572.45,32.55 572.45,30.99 577.44,30.99 577.44,29.43 582.22,29.43 582.22,27.87 587.17,27.87 587.17,26.31 587.48,26.31 587.48,24.75 591.89,24.75 591.89,23.19 600.68,23.19 600.68,21.63 607.76,21.63 607.76,20.08 616.00,20.08 616.00,18.52 627.38,18.52 627.38,16.96 635.39,16.96 635.39,15.40 681.50,15.40" fill="none" stroke="#21918c" stroke-width="1.0" stroke-opacity="0.9" stroke-linejoin="miter"/>
<polyline points="535.30,140.10 535.30,138.54 535.37,138.54 535.37,136.98 535.37,135.42 535.45,135.42 535.45,133.86 535.47,133.86 535.47,132.31 535.82,132.31 535.82,130.75 535.82,129.19 535.94,129.19 535.94,127.63 535.94,126.07 535.94,124.51 535.94,122.95 535.94,121.39 536.47,121.39 536.47,119.84 536.47,118.28 536.77,118.28 536.77,116.72 537.08,116.72 537.08,115.16 537.08,113.60 537.25,113.60 537.25,112.04 537.27,112.04 537.27,110.48 537.27,108.92 537.27,107.37 537.27,105.81 537.55,105.81 537.55,104.25 537.55,102.69 537.55,101.13 537.63,101.13 537.63,99.57 537.73,99.57 537.73,98.01 538.50,98.01 538.50,96.45 538.50,94.90 538.50,93.34 538.90,93.34 538.90,91.78 539.47,91.78 539.47,90.22 539.47,88.66 539.47,87.10 540.21,87.10 540.21,85.54 540.34,85.54 540.34,83.98 540.58,83.98 540.58,82.43 540.58,80.87 540.99,80.87 540.99,79.31 541.71,79.31 541.71,77.75 542.47,77.75 542.47,76.19 543.24,76.19 543.24,74.63 543.36,74.63 543.36,73.07 544.69,73.07 544.69,71.51 545.25,71.51 545.25,69.96 545.25,68.40 546.42,68.40 546.42,66.84 546.53,66.84 546.53,65.28 547.63,65.28 547.63,63.72 548.00,63.72 548.00,62.16 549.26,62.16 549.26,60.60 549.76,60.60 549.76,59.04 551.08,59.04 551.08,57.49 552.24,57.49 552.24,55.93 552.46,55.93 552.46,54.37 553.38,54.37 553.38,52.81 554.27,52.81 554.27,51.25 555.33,51.25 555.33,49.69 556.18,49.69 556.18,48.13 557.27,48.13 557.27,46.57 558.43,46.57 558.43,45.02 559.17,45.02 559.17,43.46 560.22,43.46 560.22,41.90 561.80,41.90 561.80,40.34 569.13,40.34 569.13,38.78 570.81,38.78 570.81,37.22 571.05,37.22 571.05,35.66 574.42,35.66 574.42,34.10 576.87,34.10 576.87,32.55 579.28,32.55 579.28,30.99 581.65,30.99 581.65,29.43 584.77,29.43 584.77,27.87 587.00,27.87 587.00,26.31 589.17,26.31 589.17,24.75 594.53,24.75 594.53,23.19 605.32,23.19 605.32,21.63 609.11,21.63 609.11,20.08 613.99,20.08 613.99,18.52 622.76,18.52 622.76,16.96 634.19,16.96 634.19,15.40 681.50,15.40" fill="none" stroke="#5ec962" stroke-width="1.0" stroke-opacity="0.9" stroke-linejoin="miter"/>
</g>
<rect x="535.30" y="12.90" width="146.20" height="127.20" fill="none" stroke="#000" stroke-width="0.6"/>
<line x1="535.30" y1="140.10" x2="535.30" y2="141.75" stroke="#000" stroke-width="0.6"/>
<line x1="535.30" y1="140.10" x2="533.65" y2="140.10" stroke="#000" stroke-width="0.6"/>
<text transform="translate(535.30,146.60) skewX(0.06)" font-size="4.9" text-anchor="middle">0.0</text>
<text transform="translate(532.00,141.80) skewX(0.06)" font-size="4.9" text-anchor="end">0.0</text>
<line x1="564.54" y1="140.10" x2="564.54" y2="141.75" stroke="#000" stroke-width="0.6"/>
<line x1="535.30" y1="115.16" x2="533.65" y2="115.16" stroke="#000" stroke-width="0.6"/>
<text transform="translate(564.54,146.60) skewX(0.06)" font-size="4.9" text-anchor="middle">0.2</text>
<text transform="translate(532.00,116.86) skewX(0.06)" font-size="4.9" text-anchor="end">0.2</text>
<line x1="593.78" y1="140.10" x2="593.78" y2="141.75" stroke="#000" stroke-width="0.6"/>
<line x1="535.30" y1="90.22" x2="533.65" y2="90.22" stroke="#000" stroke-width="0.6"/>
<text transform="translate(593.78,146.60) skewX(0.06)" font-size="4.9" text-anchor="middle">0.4</text>
<text transform="translate(532.00,91.92) skewX(0.06)" font-size="4.9" text-anchor="end">0.4</text>
<line x1="623.02" y1="140.10" x2="623.02" y2="141.75" stroke="#000" stroke-width="0.6"/>
<line x1="535.30" y1="65.28" x2="533.65" y2="65.28" stroke="#000" stroke-width="0.6"/>
<text transform="translate(623.02,146.60) skewX(0.06)" font-size="4.9" text-anchor="middle">0.6</text>
<text transform="translate(532.00,66.98) skewX(0.06)" font-size="4.9" text-anchor="end">0.6</text>
<line x1="652.26" y1="140.10" x2="652.26" y2="141.75" stroke="#000" stroke-width="0.6"/>
<line x1="535.30" y1="40.34" x2="533.65" y2="40.34" stroke="#000" stroke-width="0.6"/>
<text transform="translate(652.26,146.60) skewX(0.06)" font-size="4.9" text-anchor="middle">0.8</text>
<text transform="translate(532.00,42.04) skewX(0.06)" font-size="4.9" text-anchor="end">0.8</text>
<line x1="681.50" y1="140.10" x2="681.50" y2="141.75" stroke="#000" stroke-width="0.6"/>
<line x1="535.30" y1="15.40" x2="533.65" y2="15.40" stroke="#000" stroke-width="0.6"/>
<text transform="translate(681.50,146.60) skewX(0.06)" font-size="4.9" text-anchor="middle">1.0</text>
<text transform="translate(532.00,17.10) skewX(0.06)" font-size="4.9" text-anchor="end">1.0</text>
<text transform="translate(608.40,152.50) skewX(0.06)" font-size="4.72" text-anchor="middle">False Positive Rate</text>
<text transform="translate(523.00,76.50) rotate(-90) skewX(0.06)" font-size="4.72" text-anchor="middle">True Positive Rate</text>
<rect x="575.60" y="116.60" width="103.50" height="21.50" rx="0.9" fill="#fff" fill-opacity="0.8" stroke="#d6d6d6" stroke-width="0.5"/>
<line x1="576.80" y1="119.50" x2="584.40" y2="119.50" stroke="#440154" stroke-width="1.3" stroke-opacity="0.6"/>
<text transform="translate(586.80,120.85) skewX(0.06)" font-size="3.85" fill="#505050">RandomForest (AUC = 0.90 [95% CI: 0.87–0.92])</text>
<line x1="576.80" y1="124.70" x2="584.40" y2="124.70" stroke="#3b528b" stroke-width="1.3" stroke-opacity="0.6"/>
<text transform="translate(586.80,126.05) skewX(0.06)" font-size="3.85" fill="#505050">LogisticRegression (AUC = 0.90 [95% CI: 0.88–0.92])</text>
<line x1="576.80" y1="129.90" x2="584.40" y2="129.90" stroke="#21918c" stroke-width="1.3" stroke-opacity="0.6"/>
<text transform="translate(586.80,131.25) skewX(0.06)" font-size="3.85" fill="#505050">LightGBM (AUC = 0.88 [95% CI: 0.85–0.91])</text>
<line x1="576.80" y1="135.00" x2="584.40" y2="135.00" stroke="#5ec962" stroke-width="1.3" stroke-opacity="0.6"/>
<text transform="translate(586.80,136.35) skewX(0.06)" font-size="3.85" fill="#505050">XGBoost (AUC = 0.87 [95% CI: 0.84–0.90])</text>
<text transform="translate(-0.45,162.50) skewX(0.06)" font-size="9" fill="#000">e</text>
<clipPath id="cp10"><rect x="18.5" y="169.3" width="146.2" height="127.19999999999999"/></clipPath>
<g clip-path="url(#cp10)">
<line x1="18.50" y1="286.35" x2="164.70" y2="286.35" stroke="#000" stroke-width="1.0" stroke-dasharray="2.45 1.0"/>
<polyline points="18.50,171.20 18.65,258.91 22.44,229.66 23.80,214.13 24.77,207.33 26.32,214.13 27.68,208.30 29.62,204.42 32.53,200.53 32.92,216.07 34.48,218.01 36.42,218.98 37.97,217.04 39.91,219.95 41.27,217.04 41.89,217.36 43.84,215.06 45.79,212.97 47.74,211.07 49.69,209.33 51.64,207.75 53.59,206.28 53.59,209.75 55.54,208.33 55.54,211.47 57.49,210.09 57.49,212.97 59.44,211.62 59.44,214.27 61.39,212.97 61.39,215.42 63.33,214.16 63.33,216.45 65.28,215.22 65.28,217.36 67.23,216.18 67.23,218.19 69.18,217.04 69.18,233.85 71.13,232.67 71.13,234.99 73.08,233.85 73.08,234.95 75.03,233.85 75.03,235.94 76.98,234.88 76.98,235.87 78.93,234.84 78.93,235.81 80.88,234.81 82.83,233.85 82.83,235.69 84.78,234.76 84.78,235.64 86.73,234.73 86.73,237.24 88.68,236.36 90.63,235.50 90.63,237.06 92.57,236.23 92.57,236.98 94.52,236.17 94.52,237.62 96.47,236.83 96.47,238.89 98.42,238.12 100.37,237.37 100.37,239.30 102.32,238.57 102.32,239.18 104.27,237.85 106.22,237.15 108.17,236.46 108.17,237.08 110.12,236.41 110.12,237.01 112.07,236.36 112.07,236.95 114.02,236.31 114.02,241.19 115.97,240.56 115.97,245.15 117.92,244.55 117.92,249.16 119.87,248.59 119.87,251.87 121.81,251.32 121.81,252.81 123.76,252.28 123.76,253.68 125.71,253.16 125.71,254.73 127.66,254.23 127.66,255.70 129.61,255.22 129.61,256.15 131.56,255.67 131.56,257.64 133.51,257.18 133.51,258.97 135.46,258.53 135.46,259.65 137.41,259.22 137.41,260.45 139.36,260.03 139.36,260.53 141.31,260.12 141.31,261.10 143.26,260.70 143.26,262.08 145.21,261.69 145.21,262.71 147.16,262.33 147.16,267.07 149.11,266.73 149.11,268.33 151.05,268.00 151.05,269.45 153.00,269.14 153.00,270.77 154.95,270.47 154.95,272.07 156.90,271.79 156.90,273.33 158.85,273.07 158.85,276.27 160.80,276.04 160.80,277.08 162.75,276.86 162.75,280.68 164.70,280.49 164.70,284.75" fill="none" stroke="#440154" stroke-width="1.0" stroke-opacity="0.9" stroke-linejoin="miter"/>
<polyline points="18.50,171.20 21.35,171.20 21.37,202.53 22.16,193.75 22.89,216.31 23.32,233.85 23.76,218.81 24.35,226.33 24.77,218.98 24.77,218.98 26.71,217.04 28.65,219.95 30.59,223.83 32.53,226.75 34.48,221.89 36.42,220.92 38.36,218.98 41.27,218.01 41.89,217.36 43.84,215.06 45.79,212.97 45.79,216.76 47.74,214.78 49.69,212.97 49.69,216.31 51.64,214.57 51.64,217.61 53.59,215.95 55.54,214.41 55.54,217.14 57.49,215.66 57.49,222.79 59.44,221.32 59.44,225.38 61.39,223.96 63.33,222.61 65.28,221.32 67.23,220.10 69.18,218.93 69.18,220.74 71.13,219.61 71.13,221.32 73.08,220.23 75.03,219.19 75.03,220.80 76.98,219.79 78.93,218.81 78.93,220.34 80.88,219.39 82.83,218.48 82.83,221.32 84.78,220.43 84.78,225.50 86.73,224.61 86.73,230.05 88.68,229.17 88.68,232.06 90.63,231.20 90.63,232.11 92.57,231.28 92.57,232.16 94.52,231.34 94.52,233.04 96.47,232.24 96.47,233.85 98.42,233.08 98.42,236.06 100.37,235.31 100.37,238.03 102.32,237.29 102.32,239.18 104.27,238.47 104.27,240.24 106.22,239.55 106.22,241.76 108.17,241.08 108.17,242.12 110.12,241.46 110.12,243.92 112.07,243.28 112.07,244.65 114.02,244.02 114.02,246.17 115.97,245.57 115.97,248.68 117.92,248.09 117.92,250.86 119.87,250.29 119.87,251.87 121.81,251.32 121.81,252.81 123.76,252.28 123.76,253.13 125.71,252.61 125.71,254.73 127.66,254.23 127.66,256.40 129.61,255.92 129.61,257.68 131.56,257.22 131.56,258.65 133.51,258.20 133.51,259.54 135.46,259.10 135.46,260.00 137.41,259.58 137.41,260.95 139.36,260.53 139.36,262.28 141.31,261.88 141.31,263.05 143.26,262.66 143.26,264.80 145.21,264.44 145.21,266.45 147.16,266.10 147.16,268.28 149.11,267.95 149.11,270.91 151.05,270.60 151.05,271.51 153.00,271.22 153.00,272.88 154.95,272.60 154.95,274.12 156.90,273.86 156.90,276.10 158.85,275.86 158.85,277.70 160.80,277.48 160.80,279.65 162.75,279.46 162.75,282.51 164.70,282.35 164.70,284.53" fill="none" stroke="#3b528b" stroke-width="1.0" stroke-opacity="0.9" stroke-linejoin="miter"/>
<polyline points="18.50,171.20 19.23,171.20 22.83,239.37 24.77,233.54 25.74,221.89 27.68,233.54 29.62,225.78 31.56,228.69 33.50,225.78 35.45,223.83 38.36,222.86 41.27,224.81 41.89,224.90 43.84,222.46 45.79,220.23 45.79,223.41 47.74,221.32 47.74,224.21 49.69,222.25 49.69,224.90 51.64,223.05 51.64,225.50 53.59,223.75 53.59,228.15 55.54,226.48 55.54,228.48 57.49,226.89 59.44,225.38 59.44,227.26 61.39,225.82 61.39,227.58 63.33,226.21 65.28,224.90 67.23,223.65 69.18,222.46 69.18,225.68 71.13,224.52 71.13,227.46 73.08,226.33 73.08,229.03 75.03,227.94 75.03,229.21 76.98,228.15 76.98,229.38 78.93,228.35 78.93,229.53 80.88,228.54 80.88,229.67 82.83,228.71 82.83,229.81 84.78,228.88 86.73,227.98 86.73,230.05 88.68,229.17 88.68,231.13 90.63,230.27 90.63,232.11 92.57,231.28 94.52,230.46 94.52,231.34 96.47,230.55 96.47,232.24 98.42,231.47 98.42,234.60 100.37,233.85 100.37,236.70 102.32,235.96 102.32,238.57 104.27,237.85 104.27,239.66 106.22,238.96 106.22,241.22 108.17,240.54 108.17,242.12 110.12,241.46 110.12,243.45 112.07,242.80 112.07,245.53 114.02,244.91 114.02,247.38 115.97,246.78 115.97,249.39 117.92,248.81 117.92,250.19 119.87,249.63 119.87,251.87 121.81,251.32 121.81,252.23 123.76,251.69 123.76,253.13 125.71,252.61 125.71,254.22 127.66,253.71 127.66,254.98 129.61,254.49 129.61,255.22 131.56,254.73 131.56,255.90 133.51,255.43 133.51,256.97 135.46,256.51 135.46,258.14 137.41,257.70 137.41,259.22 139.36,258.79 139.36,259.15 141.31,258.73 141.31,260.29 143.26,259.88 143.26,261.33 145.21,260.93 145.21,262.14 147.16,261.75 147.16,263.15 149.11,262.78 149.11,264.33 151.05,263.98 151.05,265.18 153.00,264.83 153.00,266.69 154.95,266.36 154.95,267.65 156.90,267.33 156.90,269.29 158.85,269.00 158.85,271.16 160.80,270.88 160.80,272.74 162.75,272.48 162.75,277.38 164.70,277.16 164.70,285.07" fill="none" stroke="#21918c" stroke-width="1.0" stroke-opacity="0.9" stroke-linejoin="miter"/>
<polyline points="18.50,171.20 18.57,296.50 20.84,216.81 21.72,244.38 22.45,223.32 23.32,234.60 24.93,241.37 27.68,222.86 29.62,243.25 32.53,239.37 35.45,236.46 38.36,233.54 41.27,231.60 41.89,231.13 43.84,228.63 45.79,226.33 45.79,229.03 47.74,226.89 49.69,224.90 49.69,235.75 51.64,233.85 51.64,235.64 53.59,233.85 53.59,235.54 55.54,233.85 57.49,232.24 57.49,233.85 59.44,232.32 61.39,230.87 63.33,229.48 63.33,231.00 65.28,229.67 65.28,233.85 67.23,232.57 67.23,233.85 69.18,232.62 69.18,233.85 71.13,232.67 71.13,234.99 73.08,233.85 73.08,236.01 75.03,234.91 75.03,235.94 76.98,234.88 76.98,236.83 78.93,235.81 78.93,237.65 80.88,236.66 80.88,237.54 82.83,236.57 82.83,238.26 84.78,237.33 84.78,238.93 86.73,238.03 86.73,239.55 88.68,238.67 88.68,240.12 90.63,239.26 90.63,240.64 92.57,239.82 92.57,240.48 94.52,239.68 94.52,240.97 96.47,240.19 96.47,241.42 98.42,240.66 98.42,241.85 100.37,241.10 100.37,241.68 102.32,240.95 102.32,242.08 104.27,241.37 104.27,241.91 106.22,241.22 106.22,243.31 108.17,242.63 108.17,244.57 110.12,243.92 110.12,245.73 112.07,245.09 112.07,246.38 114.02,245.76 114.02,247.38 115.97,246.78 115.97,247.17 117.92,246.58 117.92,249.51 119.87,248.94 119.87,249.96 121.81,249.40 121.81,251.32 123.76,250.78 123.76,252.28 125.71,251.75 125.71,253.43 127.66,252.92 127.66,254.48 129.61,253.99 129.61,257.89 131.56,257.43 131.56,261.22 133.51,260.79 133.51,262.90 135.46,262.48 135.46,264.51 137.41,264.11 137.41,264.65 139.36,264.27 139.36,266.39 141.31,266.02 141.31,266.71 143.26,266.35 143.26,267.86 145.21,267.52 145.21,269.62 147.16,269.30 147.16,270.49 149.11,270.18 149.11,271.14 151.05,270.84 151.05,272.43 153.00,272.15 153.00,274.56 154.95,274.29 154.95,276.05 156.90,275.81 156.90,277.81 158.85,277.59 158.85,279.82 160.80,279.62 160.80,280.78 162.75,280.60 162.75,282.26 164.70,282.09 164.70,285.08" fill="none" stroke="#5ec962" stroke-width="1.0" stroke-opacity="0.9" stroke-linejoin="miter"/>
</g>
<rect x="18.50" y="169.30" width="146.20" height="127.20" fill="none" stroke="#000" stroke-width="0.6"/>
<line x1="18.50" y1="296.50" x2="18.50" y2="298.15" stroke="#000" stroke-width="0.6"/>
<line x1="18.50" y1="296.50" x2="16.85" y2="296.50" stroke="#000" stroke-width="0.6"/>
<text transform="translate(18.50,303.00) skewX(0.06)" font-size="4.9" text-anchor="middle">0.0</text>
<text transform="translate(15.20,298.20) skewX(0.06)" font-size="4.9" text-anchor="end">0.0</text>
<line x1="47.74" y1="296.50" x2="47.74" y2="298.15" stroke="#000" stroke-width="0.6"/>
<line x1="18.50" y1="271.44" x2="16.85" y2="271.44" stroke="#000" stroke-width="0.6"/>
<text transform="translate(47.74,303.00) skewX(0.06)" font-size="4.9" text-anchor="middle">0.2</text>
<text transform="translate(15.20,273.14) skewX(0.06)" font-size="4.9" text-anchor="end">0.2</text>
<line x1="76.98" y1="296.50" x2="76.98" y2="298.15" stroke="#000" stroke-width="0.6"/>
<line x1="18.50" y1="246.38" x2="16.85" y2="246.38" stroke="#000" stroke-width="0.6"/>
<text transform="translate(76.98,303.00) skewX(0.06)" font-size="4.9" text-anchor="middle">0.4</text>
<text transform="translate(15.20,248.08) skewX(0.06)" font-size="4.9" text-anchor="end">0.4</text>
<line x1="106.22" y1="296.50" x2="106.22" y2="298.15" stroke="#000" stroke-width="0.6"/>
<line x1="18.50" y1="221.32" x2="16.85" y2="221.32" stroke="#000" stroke-width="0.6"/>
<text transform="translate(106.22,303.00) skewX(0.06)" font-size="4.9" text-anchor="middle">0.6</text>
<text transform="translate(15.20,223.02) skewX(0.06)" font-size="4.9" text-anchor="end">0.6</text>
<line x1="135.46" y1="296.50" x2="135.46" y2="298.15" stroke="#000" stroke-width="0.6"/>
<line x1="18.50" y1="196.26" x2="16.85" y2="196.26" stroke="#000" stroke-width="0.6"/>
<text transform="translate(135.46,303.00) skewX(0.06)" font-size="4.9" text-anchor="middle">0.8</text>
<text transform="translate(15.20,197.96) skewX(0.06)" font-size="4.9" text-anchor="end">0.8</text>
<line x1="164.70" y1="296.50" x2="164.70" y2="298.15" stroke="#000" stroke-width="0.6"/>
<line x1="18.50" y1="171.20" x2="16.85" y2="171.20" stroke="#000" stroke-width="0.6"/>
<text transform="translate(164.70,303.00) skewX(0.06)" font-size="4.9" text-anchor="middle">1.0</text>
<text transform="translate(15.20,172.90) skewX(0.06)" font-size="4.9" text-anchor="end">1.0</text>
<text transform="translate(91.60,308.90) skewX(0.06)" font-size="4.72" text-anchor="middle">Recall</text>
<text transform="translate(6.20,232.90) rotate(-90) skewX(0.06)" font-size="4.72" text-anchor="middle">Precision</text>
<rect x="61.40" y="171.40" width="100.90" height="21.00" rx="0.9" fill="#fff" fill-opacity="0.8" stroke="#d6d6d6" stroke-width="0.5"/>
<line x1="62.60" y1="173.80" x2="70.20" y2="173.80" stroke="#440154" stroke-width="1.3" stroke-opacity="0.6"/>
<text transform="translate(72.60,175.15) skewX(0.06)" font-size="3.85" fill="#505050">RandomForest (AP = 0.49 [95% CI: 0.38–0.59])</text>
<line x1="62.60" y1="179.00" x2="70.20" y2="179.00" stroke="#3b528b" stroke-width="1.3" stroke-opacity="0.6"/>
<text transform="translate(72.60,180.35) skewX(0.06)" font-size="3.85" fill="#505050">LightGBM (AP = 0.47 [95% CI: 0.37–0.58])</text>
<line x1="62.60" y1="184.20" x2="70.20" y2="184.20" stroke="#21918c" stroke-width="1.3" stroke-opacity="0.6"/>
<text transform="translate(72.60,185.55) skewX(0.06)" font-size="3.85" fill="#505050">LogisticRegression (AP = 0.45 [95% CI: 0.35–0.54])</text>
<line x1="62.60" y1="189.40" x2="70.20" y2="189.40" stroke="#5ec962" stroke-width="1.3" stroke-opacity="0.6"/>
<text transform="translate(72.60,190.75) skewX(0.06)" font-size="3.85" fill="#505050">XGBoost (AP = 0.42 [95% CI: 0.33–0.53])</text>
<text transform="translate(171.80,162.50) skewX(0.06)" font-size="9" fill="#000">f</text>
<clipPath id="cp11"><rect x="190.75" y="169.3" width="146.2" height="127.19999999999999"/></clipPath>
<g clip-path="url(#cp11)">
<line x1="190.75" y1="286.35" x2="336.95" y2="286.35" stroke="#000" stroke-width="1.0" stroke-dasharray="2.45 1.0"/>
<polyline points="190.75,171.20 191.19,265.18 191.92,271.44 193.85,241.31 195.80,229.66 197.74,218.98 198.71,214.13 199.68,223.83 201.62,220.92 203.56,218.98 205.50,217.04 207.45,214.13 208.42,219.95 211.33,217.04 214.14,217.36 216.09,215.06 216.09,218.93 218.04,216.76 218.04,220.23 219.99,218.19 221.94,216.31 223.89,214.57 223.89,217.61 225.84,215.95 227.79,214.41 229.74,212.97 229.74,215.66 231.69,214.27 233.64,212.97 233.64,215.42 235.58,214.16 235.58,218.61 237.53,217.36 237.53,221.32 239.48,220.10 239.48,225.31 241.43,224.10 241.43,227.19 243.38,226.02 243.38,227.46 245.33,226.33 245.33,227.71 247.28,226.62 247.28,231.61 249.23,230.55 249.23,233.85 251.18,232.82 251.18,236.74 253.13,235.75 253.13,237.54 255.08,236.57 255.08,237.43 257.03,236.50 258.98,235.59 260.93,234.71 262.88,233.85 264.82,233.01 264.82,235.46 266.77,234.64 266.77,235.42 268.72,234.62 268.72,235.38 270.67,234.60 270.67,235.34 272.62,234.59 272.62,236.01 274.57,235.27 274.57,235.96 276.52,235.24 276.52,237.22 278.47,236.52 278.47,237.77 280.42,237.08 280.42,237.69 282.37,237.01 282.37,238.76 284.32,238.11 284.32,239.22 286.27,238.58 286.27,240.17 288.22,239.55 288.22,247.55 290.17,246.96 290.17,248.09 292.12,247.51 292.12,249.63 294.06,249.06 294.06,250.38 296.01,249.84 296.01,252.56 297.96,252.04 297.96,254.22 299.91,253.71 299.91,255.22 301.86,254.73 301.86,255.45 303.81,254.97 303.81,256.79 305.76,256.32 305.76,257.39 307.71,256.93 307.71,258.53 309.66,258.09 309.66,259.40 311.61,258.97 311.61,260.86 313.56,260.45 313.56,262.47 315.51,262.08 315.51,264.55 317.46,264.18 317.46,265.18 319.41,264.81 319.41,266.54 321.36,266.19 321.36,267.15 323.30,266.81 323.30,269.10 325.25,268.79 325.25,270.85 327.20,270.55 327.20,271.79 329.15,271.51 329.15,274.15 331.10,273.89 331.10,276.36 333.05,276.13 333.05,277.76 335.00,277.54 335.00,280.81 336.95,280.63 336.95,285.37" fill="none" stroke="#440154" stroke-width="1.0" stroke-opacity="0.9" stroke-linejoin="miter"/>
<polyline points="190.75,171.20 191.33,277.70 194.83,239.37 196.77,231.60 199.68,222.86 202.59,219.95 205.50,216.07 208.42,214.13 211.33,213.16 213.27,211.21 214.14,212.97 216.09,210.77 218.04,208.79 218.04,216.76 219.99,214.78 221.94,212.97 221.94,216.31 223.89,214.57 223.89,217.61 225.84,215.95 225.84,218.73 227.79,217.14 227.79,222.10 229.74,220.56 229.74,222.79 231.69,221.32 231.69,223.41 233.64,222.00 233.64,225.82 235.58,224.45 237.53,223.15 237.53,226.57 239.48,225.31 239.48,226.89 241.43,225.68 241.43,227.19 243.38,226.02 245.33,224.90 245.33,227.71 247.28,226.62 247.28,227.94 249.23,226.89 249.23,229.38 251.18,228.35 251.18,230.66 253.13,229.67 253.13,230.77 255.08,229.81 255.08,231.89 257.03,230.96 257.03,232.91 258.98,232.01 258.98,232.94 260.93,232.06 260.93,233.85 262.88,232.99 262.88,233.85 264.82,233.01 264.82,234.66 266.77,233.85 266.77,235.42 268.72,234.62 268.72,236.11 270.67,235.34 270.67,236.76 272.62,236.01 272.62,238.67 274.57,237.94 274.57,240.38 276.52,239.66 276.52,240.81 278.47,240.12 278.47,242.80 280.42,242.12 280.42,245.49 282.37,244.84 282.37,249.76 284.32,249.14 284.32,251.28 286.27,250.68 286.27,252.01 288.22,251.43 288.22,252.38 290.17,251.81 290.17,253.03 292.12,252.48 292.12,253.63 294.06,253.10 294.06,254.73 296.01,254.21 296.01,255.24 297.96,254.73 297.96,255.48 299.91,254.98 299.91,256.63 301.86,256.15 303.81,255.67 303.81,256.57 305.76,256.10 305.76,257.79 307.71,257.34 307.71,258.14 309.66,257.70 309.66,259.75 311.61,259.33 311.61,259.86 313.56,259.44 313.56,261.26 315.51,260.86 315.51,263.09 317.46,262.71 317.46,264.69 319.41,264.32 319.41,266.10 321.36,265.75 321.36,268.42 323.30,268.10 323.30,270.44 325.25,270.14 325.25,271.87 327.20,271.58 327.20,273.89 329.15,273.63 329.15,276.90 331.10,276.67 331.10,278.56 333.05,278.35 333.05,281.23 335.00,281.05 335.00,283.20 336.95,283.04 336.95,285.00" fill="none" stroke="#3b528b" stroke-width="1.0" stroke-opacity="0.9" stroke-linejoin="miter"/>
<polyline points="190.75,171.20 191.48,283.97 195.80,243.25 197.74,237.43 200.65,231.60 203.56,227.72 206.48,225.78 209.39,223.83 212.30,222.86 214.14,224.90 216.09,222.46 216.09,225.68 218.04,223.41 219.99,221.32 219.99,224.21 221.94,222.25 223.89,220.43 225.84,218.73 225.84,221.32 227.79,219.70 227.79,222.10 229.74,220.56 229.74,224.90 231.69,223.41 231.69,225.38 233.64,223.96 233.64,227.58 235.58,226.21 237.53,224.90 237.53,226.57 239.48,225.31 241.43,224.10 241.43,227.19 243.38,226.02 243.38,227.46 245.33,226.33 245.33,227.71 247.28,226.62 247.28,227.94 249.23,226.89 249.23,228.15 251.18,227.14 251.18,228.35 253.13,227.37 253.13,229.67 255.08,228.71 255.08,229.81 257.03,228.88 257.03,229.93 258.98,229.03 258.98,231.04 260.93,230.16 260.93,232.06 262.88,231.20 262.88,232.99 264.82,232.16 264.82,233.01 266.77,232.20 266.77,233.04 268.72,232.24 268.72,234.62 270.67,233.85 270.67,235.34 272.62,234.59 272.62,236.70 274.57,235.96 274.57,238.57 276.52,237.85 276.52,239.66 278.47,238.96 278.47,241.22 280.42,240.54 280.42,243.13 282.37,242.47 282.37,245.29 284.32,244.65 284.32,245.96 286.27,245.34 286.27,248.16 288.22,247.55 288.22,248.68 290.17,248.09 290.17,249.51 292.12,248.94 292.12,249.96 294.06,249.40 294.06,251.32 296.01,250.78 296.01,251.69 297.96,251.16 297.96,253.16 299.91,252.65 299.91,253.45 301.86,252.95 301.86,254.49 303.81,254.00 303.81,254.49 305.76,254.01 305.76,254.26 307.71,253.78 309.66,253.32 309.66,254.50 311.61,254.05 311.61,254.28 313.56,253.83 313.56,257.03 315.51,256.60 315.51,259.71 317.46,259.31 317.46,261.24 319.41,260.85 319.41,262.04 321.36,261.67 321.36,263.58 323.30,263.22 323.30,265.52 325.25,265.18 325.25,267.58 327.20,267.26 327.20,270.40 329.15,270.10 329.15,272.52 331.10,272.25 331.10,275.37 333.05,275.13 333.05,278.46 335.00,278.25 335.00,282.62 336.95,282.45 336.95,285.40" fill="none" stroke="#21918c" stroke-width="1.0" stroke-opacity="0.9" stroke-linejoin="miter"/>
<polyline points="190.75,171.20 193.38,171.20 192.69,204.42 193.85,202.48 194.83,214.13 195.80,216.07 197.74,223.83 199.68,233.54 201.62,229.66 203.56,231.60 206.48,227.72 208.42,225.78 212.30,223.83 214.14,221.32 216.09,218.93 216.09,225.68 218.04,223.41 219.99,221.32 219.99,224.21 221.94,222.25 223.89,220.43 223.89,223.05 225.84,221.32 227.79,219.70 227.79,222.10 229.74,220.56 229.74,226.89 231.69,225.38 231.69,235.31 233.64,233.85 235.58,232.46 235.58,233.85 237.53,232.52 237.53,235.13 239.48,233.85 239.48,235.08 241.43,233.85 241.43,235.03 243.38,233.85 243.38,234.99 245.33,233.85 245.33,234.95 247.28,233.85 247.28,234.91 249.23,233.85 249.23,235.87 251.18,234.84 251.18,235.81 253.13,234.81 253.13,235.75 255.08,234.79 255.08,235.69 257.03,234.76 257.03,235.64 258.98,234.73 258.98,235.59 260.93,234.71 260.93,235.54 262.88,234.69 262.88,236.29 264.82,235.46 264.82,236.98 266.77,236.17 266.77,237.62 268.72,236.83 268.72,238.89 270.67,238.12 270.67,239.42 272.62,238.67 272.62,241.10 274.57,240.38 274.57,242.08 276.52,241.37 276.52,242.45 278.47,241.76 278.47,243.31 280.42,242.63 280.42,245.49 282.37,244.84 282.37,245.73 284.32,245.09 284.32,245.96 286.27,245.34 286.27,247.77 288.22,247.17 290.17,246.58 290.17,248.81 292.12,248.24 292.12,248.59 294.06,248.03 294.06,251.01 296.01,250.47 296.01,252.56 297.96,252.04 297.96,254.48 299.91,253.97 299.91,255.70 301.86,255.22 301.86,257.89 303.81,257.43 303.81,258.65 305.76,258.20 305.76,259.16 307.71,258.72 307.71,260.18 309.66,259.75 309.66,262.38 311.61,261.97 311.61,264.92 313.56,264.54 313.56,265.90 315.51,265.54 315.51,265.78 317.46,265.41 317.46,267.31 319.41,266.96 319.41,268.37 321.36,268.04 321.36,268.79 323.30,268.47 323.30,270.52 325.25,270.22 325.25,272.21 327.20,271.93 327.20,273.48 329.15,273.21 329.15,274.91 331.10,274.66 331.10,276.72 333.05,276.48 333.05,279.01 335.00,278.80 335.00,281.97 336.95,281.79 336.95,285.11" fill="none" stroke="#5ec962" stroke-width="1.0" stroke-opacity="0.9" stroke-linejoin="miter"/>
</g>
<rect x="190.75" y="169.30" width="146.20" height="127.20" fill="none" stroke="#000" stroke-width="0.6"/>
<line x1="190.75" y1="296.50" x2="190.75" y2="298.15" stroke="#000" stroke-width="0.6"/>
<line x1="190.75" y1="296.50" x2="189.10" y2="296.50" stroke="#000" stroke-width="0.6"/>
<text transform="translate(190.75,303.00) skewX(0.06)" font-size="4.9" text-anchor="middle">0.0</text>
<text transform="translate(187.45,298.20) skewX(0.06)" font-size="4.9" text-anchor="end">0.0</text>
<line x1="219.99" y1="296.50" x2="219.99" y2="298.15" stroke="#000" stroke-width="0.6"/>
<line x1="190.75" y1="271.44" x2="189.10" y2="271.44" stroke="#000" stroke-width="0.6"/>
<text transform="translate(219.99,303.00) skewX(0.06)" font-size="4.9" text-anchor="middle">0.2</text>
<text transform="translate(187.45,273.14) skewX(0.06)" font-size="4.9" text-anchor="end">0.2</text>
<line x1="249.23" y1="296.50" x2="249.23" y2="298.15" stroke="#000" stroke-width="0.6"/>
<line x1="190.75" y1="246.38" x2="189.10" y2="246.38" stroke="#000" stroke-width="0.6"/>
<text transform="translate(249.23,303.00) skewX(0.06)" font-size="4.9" text-anchor="middle">0.4</text>
<text transform="translate(187.45,248.08) skewX(0.06)" font-size="4.9" text-anchor="end">0.4</text>
<line x1="278.47" y1="296.50" x2="278.47" y2="298.15" stroke="#000" stroke-width="0.6"/>
<line x1="190.75" y1="221.32" x2="189.10" y2="221.32" stroke="#000" stroke-width="0.6"/>
<text transform="translate(278.47,303.00) skewX(0.06)" font-size="4.9" text-anchor="middle">0.6</text>
<text transform="translate(187.45,223.02) skewX(0.06)" font-size="4.9" text-anchor="end">0.6</text>
<line x1="307.71" y1="296.50" x2="307.71" y2="298.15" stroke="#000" stroke-width="0.6"/>
<line x1="190.75" y1="196.26" x2="189.10" y2="196.26" stroke="#000" stroke-width="0.6"/>
<text transform="translate(307.71,303.00) skewX(0.06)" font-size="4.9" text-anchor="middle">0.8</text>
<text transform="translate(187.45,197.96) skewX(0.06)" font-size="4.9" text-anchor="end">0.8</text>
<line x1="336.95" y1="296.50" x2="336.95" y2="298.15" stroke="#000" stroke-width="0.6"/>
<line x1="190.75" y1="171.20" x2="189.10" y2="171.20" stroke="#000" stroke-width="0.6"/>
<text transform="translate(336.95,303.00) skewX(0.06)" font-size="4.9" text-anchor="middle">1.0</text>
<text transform="translate(187.45,172.90) skewX(0.06)" font-size="4.9" text-anchor="end">1.0</text>
<text transform="translate(263.85,308.90) skewX(0.06)" font-size="4.72" text-anchor="middle">Recall</text>
<text transform="translate(178.45,232.90) rotate(-90) skewX(0.06)" font-size="4.72" text-anchor="middle">Precision</text>
<rect x="233.65" y="171.40" width="100.90" height="21.00" rx="0.9" fill="#fff" fill-opacity="0.8" stroke="#d6d6d6" stroke-width="0.5"/>
<line x1="234.85" y1="173.80" x2="242.45" y2="173.80" stroke="#440154" stroke-width="1.3" stroke-opacity="0.6"/>
<text transform="translate(244.85,175.15) skewX(0.06)" font-size="3.85" fill="#505050">RandomForest (AP = 0.47 [95% CI: 0.37–0.57])</text>
<line x1="234.85" y1="179.00" x2="242.45" y2="179.00" stroke="#3b528b" stroke-width="1.3" stroke-opacity="0.6"/>
<text transform="translate(244.85,180.35) skewX(0.06)" font-size="3.85" fill="#505050">LightGBM (AP = 0.45 [95% CI: 0.36–0.55])</text>
<line x1="234.85" y1="184.20" x2="242.45" y2="184.20" stroke="#21918c" stroke-width="1.3" stroke-opacity="0.6"/>
<text transform="translate(244.85,185.55) skewX(0.06)" font-size="3.85" fill="#505050">LogisticRegression (AP = 0.44 [95% CI: 0.35–0.55])</text>
<line x1="234.85" y1="189.40" x2="242.45" y2="189.40" stroke="#5ec962" stroke-width="1.3" stroke-opacity="0.6"/>
<text transform="translate(244.85,190.75) skewX(0.06)" font-size="3.85" fill="#505050">XGBoost (AP = 0.44 [95% CI: 0.34–0.54])</text>
<text transform="translate(344.05,162.50) skewX(0.06)" font-size="9" fill="#000">g</text>
<clipPath id="cp12"><rect x="363.0" y="169.3" width="146.2" height="127.19999999999999"/></clipPath>
<g clip-path="url(#cp12)">
<line x1="363.00" y1="286.35" x2="509.20" y2="286.35" stroke="#000" stroke-width="1.0" stroke-dasharray="2.45 1.0"/>
<polyline points="363.00,171.20 363.29,296.50 364.75,296.50 367.80,243.25 369.74,239.37 371.68,233.54 373.62,227.72 375.56,223.83 377.50,224.81 379.45,221.89 380.42,219.95 381.39,226.75 383.33,222.86 385.27,220.92 386.39,221.32 388.34,218.93 390.29,216.76 392.24,214.78 394.19,212.97 396.14,211.30 398.09,209.75 400.04,208.33 400.04,211.47 401.99,210.09 401.99,212.97 403.94,211.62 403.94,214.27 405.89,212.97 405.89,215.42 407.83,214.16 409.78,212.97 409.78,217.36 411.73,216.18 411.73,220.10 413.68,218.93 413.68,222.46 415.63,221.32 415.63,224.52 417.58,223.41 417.58,224.90 419.53,223.83 419.53,225.25 421.48,224.21 423.43,223.21 423.43,229.53 425.38,228.54 425.38,230.77 427.33,229.81 427.33,231.89 429.28,230.96 429.28,231.95 431.23,231.04 431.23,232.94 433.18,232.06 433.18,233.85 435.13,232.99 435.13,235.50 437.07,234.66 439.02,233.85 439.02,236.17 440.97,235.38 440.97,236.11 442.92,235.34 442.92,236.76 444.87,236.01 444.87,237.37 446.82,236.63 446.82,237.94 448.77,237.22 448.77,239.07 450.72,238.37 450.72,240.67 452.67,239.99 452.67,241.61 454.62,240.94 454.62,243.45 456.57,242.80 456.57,245.09 458.52,244.47 458.52,246.99 460.47,246.38 460.47,246.78 462.42,246.18 462.42,247.72 464.37,247.14 464.37,248.24 466.31,247.67 466.31,250.38 468.26,249.84 468.26,252.56 470.21,252.04 470.21,254.22 472.16,253.71 472.16,254.73 474.11,254.24 474.11,255.45 476.06,254.97 476.06,256.13 478.01,255.66 478.01,256.10 479.96,255.64 479.96,257.14 481.91,256.69 481.91,256.90 483.86,256.46 483.86,258.04 485.81,257.61 485.81,258.73 487.76,258.31 487.76,260.21 489.71,259.81 489.71,262.85 491.66,262.47 491.66,265.18 493.61,264.82 493.61,268.23 495.55,267.91 495.55,270.76 497.50,270.46 497.50,273.32 499.45,273.05 499.45,275.16 501.40,274.91 501.40,276.73 503.35,276.50 503.35,277.94 505.30,277.72 505.30,280.22 507.25,280.03 507.25,281.32 509.20,281.14 509.20,284.54" fill="none" stroke="#440154" stroke-width="1.0" stroke-opacity="0.9" stroke-linejoin="miter"/>
<polyline points="363.00,171.20 363.88,283.97 368.77,243.25 370.71,235.49 372.65,229.66 374.59,227.72 376.53,225.78 378.48,226.75 380.42,229.66 382.36,230.63 384.30,229.66 386.24,228.69 386.39,228.15 388.34,225.68 388.34,228.63 390.29,226.33 392.24,224.21 392.24,229.38 394.19,227.37 394.19,231.83 396.14,227.79 398.09,226.02 398.09,228.15 400.04,226.48 401.99,224.90 403.94,223.41 405.89,222.00 405.89,223.96 407.83,222.61 409.78,221.32 411.73,220.10 411.73,223.65 413.68,222.46 413.68,224.10 415.63,222.95 415.63,224.52 417.58,223.41 417.58,226.33 419.53,225.25 421.48,224.21 423.43,223.21 423.43,228.35 425.38,227.37 425.38,230.77 427.33,229.81 427.33,231.89 429.28,230.96 429.28,231.95 431.23,231.04 431.23,232.01 433.18,231.13 433.18,232.97 435.13,232.11 437.07,231.28 437.07,233.01 439.02,232.20 439.02,233.85 440.97,233.06 440.97,234.62 442.92,233.85 442.92,235.34 444.87,234.59 444.87,236.70 446.82,235.96 446.82,239.18 448.77,238.47 448.77,241.37 450.72,240.67 450.72,243.80 452.67,243.13 452.67,245.49 454.62,244.84 454.62,247.83 456.57,247.20 456.57,250.59 458.52,249.99 458.52,251.68 460.47,251.10 460.47,252.07 462.42,251.50 462.42,253.90 464.37,253.35 464.37,254.19 466.31,253.66 466.31,254.99 468.26,254.47 468.26,255.24 470.21,254.73 470.21,256.43 472.16,255.47 474.11,254.98 476.06,254.49 476.06,255.67 478.01,255.20 479.96,254.73 479.96,256.08 481.91,255.63 481.91,256.48 483.86,256.04 483.86,257.46 485.81,257.03 485.81,258.73 487.76,258.31 487.76,260.86 489.71,260.46 489.71,263.66 491.66,263.29 491.66,265.98 493.61,265.64 493.61,268.14 495.55,267.81 495.55,270.04 497.50,269.73 497.50,271.29 499.45,271.00 499.45,273.11 501.40,272.84 501.40,275.27 503.35,275.02 503.35,276.36 505.30,276.13 505.30,278.67 507.25,278.46 507.25,282.41 509.20,282.24 509.20,284.71" fill="none" stroke="#3b528b" stroke-width="1.0" stroke-opacity="0.9" stroke-linejoin="miter"/>
<polyline points="363.00,171.20 363.58,271.44 365.85,239.37 366.44,214.13 367.41,202.48 368.38,218.01 369.74,231.60 371.68,229.66 374.59,228.69 377.50,228.69 380.42,229.66 383.33,228.69 386.24,227.72 386.39,228.15 388.34,225.68 390.29,223.41 390.29,226.33 392.24,224.21 392.24,226.89 394.19,224.90 394.19,227.37 396.14,225.50 396.14,229.93 398.09,228.15 398.09,230.16 400.04,228.48 400.04,230.37 401.99,228.77 403.94,227.26 403.94,229.03 405.89,227.58 407.83,226.21 409.78,224.90 411.73,223.65 413.68,222.46 413.68,225.68 415.63,224.52 415.63,226.02 417.58,224.90 417.58,226.33 419.53,225.25 419.53,227.94 421.48,226.89 421.48,228.15 423.43,227.14 423.43,229.53 425.38,228.54 425.38,230.77 427.33,229.81 427.33,236.57 429.28,235.64 429.28,239.70 431.23,238.80 431.23,240.99 433.18,240.12 433.18,241.49 435.13,240.64 435.13,241.31 437.07,239.82 439.02,239.01 439.02,240.33 440.97,239.55 440.97,240.81 442.92,240.05 442.92,240.66 444.87,239.91 444.87,241.68 446.82,240.95 446.82,242.62 448.77,241.91 448.77,243.49 450.72,242.80 450.72,244.77 452.67,244.10 452.67,245.04 454.62,244.38 454.62,245.73 456.57,245.09 456.57,246.79 458.52,246.17 460.47,245.57 460.47,247.17 462.42,246.58 462.42,247.34 464.37,246.76 464.37,250.94 466.31,249.40 468.26,248.85 468.26,253.40 470.21,252.88 470.21,253.43 472.16,252.92 472.16,256.17 474.11,255.69 474.11,256.60 476.06,256.13 476.06,256.79 478.01,256.32 478.01,257.18 479.96,256.72 479.96,257.95 481.91,257.50 481.91,258.28 483.86,257.85 483.86,258.97 485.81,258.55 485.81,259.78 487.76,259.37 487.76,261.63 489.71,261.24 489.71,264.56 491.66,264.20 491.66,266.32 493.61,265.97 493.61,268.42 495.55,268.10 495.55,270.52 497.50,270.22 497.50,272.81 499.45,272.54 499.45,274.41 501.40,274.15 501.40,276.51 503.35,276.27 503.35,278.09 505.30,277.87 505.30,280.40 507.25,280.20 507.25,283.64 509.20,283.48 509.20,284.75" fill="none" stroke="#21918c" stroke-width="1.0" stroke-opacity="0.9" stroke-linejoin="miter"/>
<polyline points="363.00,171.20 364.46,171.20 364.61,296.50 365.92,296.50 368.77,231.60 370.71,221.89 372.65,217.04 373.62,219.95 374.59,243.25 376.53,243.25 380.42,239.37 384.30,235.49 386.39,233.85 388.34,231.34 390.29,229.03 392.24,226.89 394.19,224.90 394.19,227.37 396.14,225.50 398.09,223.75 398.09,226.02 400.04,224.36 400.04,226.48 401.99,224.90 401.99,226.89 403.94,225.38 405.89,223.96 405.89,225.82 407.83,224.45 407.83,226.21 409.78,224.90 409.78,228.15 411.73,226.89 411.73,228.40 413.68,227.19 415.63,226.02 415.63,227.46 417.58,226.33 417.58,229.03 419.53,227.94 421.48,226.89 421.48,229.38 423.43,228.35 423.43,229.53 425.38,228.54 425.38,229.67 427.33,228.71 429.28,227.79 429.28,229.93 431.23,229.03 431.23,230.05 433.18,229.17 433.18,230.16 435.13,229.31 435.13,234.69 437.07,233.85 437.07,237.72 439.02,236.91 439.02,242.80 440.97,242.02 440.97,247.36 442.92,246.62 442.92,248.93 444.87,248.22 444.87,249.93 446.82,249.24 446.82,251.60 448.77,250.94 448.77,252.39 450.72,251.75 450.72,254.42 452.67,253.81 452.67,255.62 454.62,255.03 454.62,257.24 456.57,256.67 456.57,257.45 458.52,256.89 458.52,258.37 460.47,257.83 460.47,258.30 462.42,257.77 462.42,258.00 464.37,257.48 464.37,258.84 466.31,258.33 466.31,258.98 468.26,258.49 468.26,261.44 470.21,260.98 470.21,262.21 472.16,261.76 472.16,262.44 474.11,262.00 474.11,263.13 476.06,262.70 476.06,263.47 478.01,263.05 478.01,265.18 479.96,264.78 479.96,267.70 481.91,267.33 481.91,267.98 483.86,267.62 483.86,269.34 485.81,269.00 485.81,269.19 487.76,268.85 487.76,269.59 489.71,269.26 489.71,270.48 491.66,270.16 491.66,271.81 493.61,271.51 493.61,272.79 495.55,272.50 495.55,274.02 497.50,273.75 497.50,275.96 499.45,275.72 499.45,277.18 501.40,276.95 501.40,278.67 503.35,278.46 503.35,280.50 505.30,280.31 505.30,282.27 507.25,282.10 507.25,284.19 509.20,284.04 509.20,284.84" fill="none" stroke="#5ec962" stroke-width="1.0" stroke-opacity="0.9" stroke-linejoin="miter"/>
</g>
<rect x="363.00" y="169.30" width="146.20" height="127.20" fill="none" stroke="#000" stroke-width="0.6"/>
<line x1="363.00" y1="296.50" x2="363.00" y2="298.15" stroke="#000" stroke-width="0.6"/>
<line x1="363.00" y1="296.50" x2="361.35" y2="296.50" stroke="#000" stroke-width="0.6"/>
<text transform="translate(363.00,303.00) skewX(0.06)" font-size="4.9" text-anchor="middle">0.0</text>
<text transform="translate(359.70,298.20) skewX(0.06)" font-size="4.9" text-anchor="end">0.0</text>
<line x1="392.24" y1="296.50" x2="392.24" y2="298.15" stroke="#000" stroke-width="0.6"/>
<line x1="363.00" y1="271.44" x2="361.35" y2="271.44" stroke="#000" stroke-width="0.6"/>
<text transform="translate(392.24,303.00) skewX(0.06)" font-size="4.9" text-anchor="middle">0.2</text>
<text transform="translate(359.70,273.14) skewX(0.06)" font-size="4.9" text-anchor="end">0.2</text>
<line x1="421.48" y1="296.50" x2="421.48" y2="298.15" stroke="#000" stroke-width="0.6"/>
<line x1="363.00" y1="246.38" x2="361.35" y2="246.38" stroke="#000" stroke-width="0.6"/>
<text transform="translate(421.48,303.00) skewX(0.06)" font-size="4.9" text-anchor="middle">0.4</text>
<text transform="translate(359.70,248.08) skewX(0.06)" font-size="4.9" text-anchor="end">0.4</text>
<line x1="450.72" y1="296.50" x2="450.72" y2="298.15" stroke="#000" stroke-width="0.6"/>
<line x1="363.00" y1="221.32" x2="361.35" y2="221.32" stroke="#000" stroke-width="0.6"/>
<text transform="translate(450.72,303.00) skewX(0.06)" font-size="4.9" text-anchor="middle">0.6</text>
<text transform="translate(359.70,223.02) skewX(0.06)" font-size="4.9" text-anchor="end">0.6</text>
<line x1="479.96" y1="296.50" x2="479.96" y2="298.15" stroke="#000" stroke-width="0.6"/>
<line x1="363.00" y1="196.26" x2="361.35" y2="196.26" stroke="#000" stroke-width="0.6"/>
<text transform="translate(479.96,303.00) skewX(0.06)" font-size="4.9" text-anchor="middle">0.8</text>
<text transform="translate(359.70,197.96) skewX(0.06)" font-size="4.9" text-anchor="end">0.8</text>
<line x1="509.20" y1="296.50" x2="509.20" y2="298.15" stroke="#000" stroke-width="0.6"/>
<line x1="363.00" y1="171.20" x2="361.35" y2="171.20" stroke="#000" stroke-width="0.6"/>
<text transform="translate(509.20,303.00) skewX(0.06)" font-size="4.9" text-anchor="middle">1.0</text>
<text transform="translate(359.70,172.90) skewX(0.06)" font-size="4.9" text-anchor="end">1.0</text>
<text transform="translate(436.10,308.90) skewX(0.06)" font-size="4.72" text-anchor="middle">Recall</text>
<text transform="translate(350.70,232.90) rotate(-90) skewX(0.06)" font-size="4.72" text-anchor="middle">Precision</text>
<rect x="405.90" y="171.40" width="100.90" height="21.00" rx="0.9" fill="#fff" fill-opacity="0.8" stroke="#d6d6d6" stroke-width="0.5"/>
<line x1="407.10" y1="173.80" x2="414.70" y2="173.80" stroke="#440154" stroke-width="1.3" stroke-opacity="0.6"/>
<text transform="translate(417.10,175.15) skewX(0.06)" font-size="3.85" fill="#505050">RandomForest (AP = 0.46 [95% CI: 0.36–0.56])</text>
<line x1="407.10" y1="179.00" x2="414.70" y2="179.00" stroke="#3b528b" stroke-width="1.3" stroke-opacity="0.6"/>
<text transform="translate(417.10,180.35) skewX(0.06)" font-size="3.85" fill="#505050">LogisticRegression (AP = 0.44 [95% CI: 0.35–0.53])</text>
<line x1="407.10" y1="184.20" x2="414.70" y2="184.20" stroke="#21918c" stroke-width="1.3" stroke-opacity="0.6"/>
<text transform="translate(417.10,185.55) skewX(0.06)" font-size="3.85" fill="#505050">LightGBM (AP = 0.44 [95% CI: 0.34–0.54])</text>
<line x1="407.10" y1="189.40" x2="414.70" y2="189.40" stroke="#5ec962" stroke-width="1.3" stroke-opacity="0.6"/>
<text transform="translate(417.10,190.75) skewX(0.06)" font-size="3.85" fill="#505050">XGBoost (AP = 0.41 [95% CI: 0.31–0.51])</text>
<text transform="translate(516.35,162.50) skewX(0.06)" font-size="9" fill="#000">h</text>
<clipPath id="cp13"><rect x="535.3" y="169.3" width="146.2" height="127.19999999999999"/></clipPath>
<g clip-path="url(#cp13)">
<line x1="535.30" y1="286.35" x2="681.50" y2="286.35" stroke="#000" stroke-width="1.0" stroke-dasharray="2.45 1.0"/>
<polyline points="535.30,171.20 535.59,296.50 536.76,296.50 541.77,243.25 544.68,237.43 547.59,232.57 550.50,231.60 553.42,229.66 556.33,225.78 558.27,226.75 558.69,228.15 560.64,225.68 560.64,228.63 562.59,226.33 564.54,224.21 564.54,226.89 566.49,224.90 566.49,227.37 568.44,225.50 568.44,227.79 570.39,226.02 572.34,224.36 574.29,222.79 574.29,224.90 576.24,223.41 578.19,222.00 580.13,220.66 580.13,222.61 582.08,221.32 584.03,220.10 584.03,223.65 585.98,222.46 585.98,225.68 587.93,224.52 587.93,227.46 589.88,226.33 589.88,229.03 591.83,227.94 591.83,229.21 593.78,228.15 593.78,230.55 595.73,229.53 595.73,230.66 597.68,229.67 597.68,231.83 599.63,230.87 599.63,232.89 601.58,231.95 601.58,232.91 603.53,232.01 603.53,233.85 605.48,232.97 605.48,234.71 607.43,233.85 607.43,234.69 609.37,233.85 609.37,234.66 611.32,233.85 611.32,235.42 613.27,234.62 613.27,236.11 615.22,235.34 615.22,237.45 617.17,236.70 617.17,238.03 619.12,237.29 619.12,239.18 621.07,238.47 621.07,240.24 623.02,239.55 623.02,241.22 624.97,240.54 624.97,242.63 626.92,241.97 626.92,245.29 628.87,244.65 628.87,246.38 630.82,245.76 630.82,248.91 632.77,248.31 632.77,250.09 634.72,249.51 634.72,250.86 636.67,250.29 636.67,251.56 638.61,251.01 638.61,253.38 640.56,252.85 640.56,255.74 642.51,255.23 642.51,257.12 644.46,256.63 644.46,257.52 646.41,257.04 646.41,260.25 648.36,259.80 648.36,261.05 650.31,260.61 650.31,260.79 652.26,260.36 652.26,261.53 654.21,261.11 654.21,262.38 656.16,261.97 656.16,263.16 658.11,262.77 658.11,264.28 660.06,263.90 660.06,264.68 662.01,264.31 662.01,265.05 663.96,264.69 663.96,266.75 665.91,266.41 665.91,267.35 667.85,267.02 667.85,268.66 669.80,268.34 669.80,271.73 671.75,271.44 671.75,275.11 673.70,274.85 673.70,278.08 675.65,277.86 675.65,280.07 677.60,279.87 677.60,281.79 679.55,281.62 679.55,283.95 681.50,283.80 681.50,285.03" fill="none" stroke="#440154" stroke-width="1.0" stroke-opacity="0.9" stroke-linejoin="miter"/>
<polyline points="535.30,171.20 535.74,296.50 537.49,296.50 542.74,243.25 545.65,241.31 548.56,237.43 551.48,233.54 554.39,231.60 557.30,228.69 558.69,228.15 560.64,225.68 562.59,223.41 562.59,226.33 564.54,224.21 564.54,226.89 566.49,224.90 566.49,229.67 568.44,227.79 568.44,229.93 570.39,228.15 570.39,230.16 572.34,228.48 572.34,230.37 574.29,228.77 576.24,227.26 576.24,229.03 578.19,227.58 580.13,226.21 580.13,227.88 582.08,226.57 582.08,229.67 584.03,228.40 584.03,231.24 585.98,230.01 585.98,231.34 587.93,230.16 589.88,229.03 589.88,230.30 591.83,229.21 593.78,228.15 595.73,227.14 595.73,228.35 597.68,227.37 597.68,228.54 599.63,227.58 599.63,230.87 601.58,229.93 601.58,232.91 603.53,232.01 603.53,233.85 605.48,232.97 605.48,234.71 607.43,233.85 607.43,235.50 609.37,234.66 609.37,236.98 611.32,236.17 611.32,236.91 613.27,236.11 613.27,237.54 615.22,236.76 615.22,238.78 617.17,238.03 617.17,240.51 619.12,239.79 619.12,241.52 621.07,240.81 621.07,242.97 623.02,242.28 623.02,244.29 624.97,243.62 624.97,245.49 626.92,244.84 626.92,247.42 628.87,246.79 628.87,248.00 630.82,247.38 630.82,248.91 632.77,248.31 632.77,249.39 634.72,248.81 634.72,249.86 636.67,249.29 636.67,249.96 638.61,249.06 640.56,248.51 640.56,254.21 642.51,253.70 642.51,254.48 644.46,253.97 644.46,255.70 646.41,255.22 646.41,257.47 648.36,257.00 648.36,257.84 650.31,257.39 650.31,259.54 652.26,259.10 652.26,260.18 654.21,259.75 654.21,260.28 656.16,259.68 658.11,259.26 658.11,260.78 660.06,260.38 660.06,264.03 662.01,263.66 662.01,265.30 663.96,264.94 663.96,266.96 665.91,266.62 665.91,267.75 667.85,267.42 667.85,268.84 669.80,268.52 669.80,272.08 671.75,271.79 671.75,274.84 673.70,274.59 673.70,277.61 675.65,277.39 675.65,279.57 677.60,279.37 677.60,281.18 679.55,280.99 679.55,284.33 681.50,284.18 681.50,284.48" fill="none" stroke="#3b528b" stroke-width="1.0" stroke-opacity="0.9" stroke-linejoin="miter"/>
<polyline points="535.30,171.20 536.03,283.97 541.77,241.31 544.68,231.60 546.62,223.83 548.56,219.95 550.50,216.07 552.45,217.04 553.42,216.07 555.36,215.10 556.33,229.66 558.69,228.15 560.64,225.68 560.64,228.63 562.59,226.33 562.59,229.03 564.54,226.89 564.54,229.38 566.49,227.37 566.49,235.75 568.44,233.85 568.44,235.64 570.39,233.85 572.34,232.16 574.29,230.55 574.29,232.24 576.24,230.72 576.24,233.85 578.19,232.39 580.13,231.00 580.13,233.85 582.08,232.52 582.08,233.85 584.03,232.57 584.03,235.08 585.98,233.85 587.93,232.67 587.93,233.85 589.88,232.71 589.88,233.85 591.83,232.75 591.83,233.85 593.78,232.79 593.78,233.85 595.73,232.82 595.73,233.85 597.68,232.86 597.68,233.85 599.63,232.89 599.63,233.85 601.58,232.91 601.58,234.76 603.53,233.85 603.53,234.73 605.48,233.85 605.48,235.54 607.43,234.69 607.43,236.29 609.37,235.46 609.37,237.72 611.32,236.91 611.32,237.62 613.27,236.83 613.27,238.89 615.22,238.12 615.22,240.66 617.17,239.91 617.17,241.10 619.12,240.38 619.12,242.62 621.07,241.91 621.07,243.99 623.02,243.31 623.02,245.24 624.97,244.57 624.97,246.81 626.92,246.17 626.92,248.62 628.87,248.00 628.87,250.24 630.82,249.63 630.82,251.68 632.77,251.10 632.77,253.88 634.72,253.32 634.72,254.46 636.67,253.91 636.67,255.78 638.61,255.25 638.61,257.44 640.56,256.93 640.56,258.49 642.51,258.00 642.51,259.05 644.46,258.57 644.46,259.76 646.41,259.30 646.41,260.79 648.36,260.34 648.36,263.01 650.31,262.59 650.31,266.08 652.26,265.69 652.26,268.76 654.21,268.40 654.21,268.71 656.16,268.35 656.16,269.71 658.11,269.37 658.11,270.01 660.06,269.68 660.06,270.55 662.01,270.23 662.01,271.52 663.96,271.21 663.96,271.96 665.91,271.66 665.91,272.45 667.85,272.16 667.85,274.20 669.80,273.93 669.80,275.26 671.75,275.00 671.75,276.43 673.70,276.19 673.70,278.53 675.65,278.31 675.65,279.98 677.60,279.78 677.60,282.23 679.55,282.06 679.55,284.38 681.50,284.23 681.50,284.68" fill="none" stroke="#21918c" stroke-width="1.0" stroke-opacity="0.9" stroke-linejoin="miter"/>
<polyline points="535.30,171.20 536.91,171.20 537.05,258.91 537.88,223.83 539.44,202.48 540.41,218.01 541.38,214.13 542.74,231.60 544.68,227.72 546.62,226.75 548.56,228.69 550.50,225.78 552.45,226.75 554.39,229.66 556.33,235.49 558.27,237.43 558.69,236.36 560.64,233.85 560.64,236.17 562.59,233.85 562.59,236.01 564.54,233.85 566.49,231.83 566.49,233.85 568.44,231.95 568.44,233.85 570.39,232.06 572.34,230.37 572.34,232.16 574.29,230.55 574.29,232.24 576.24,230.72 576.24,233.85 578.19,232.39 578.19,241.37 580.13,239.99 580.13,241.08 582.08,239.76 582.08,240.81 584.03,239.55 584.03,240.56 585.98,239.35 585.98,240.33 587.93,239.16 587.93,240.12 589.88,238.99 591.83,237.89 591.83,238.82 593.78,237.77 593.78,238.67 595.73,237.65 597.68,236.66 597.68,237.54 599.63,236.57 601.58,235.64 601.58,237.33 603.53,236.42 603.53,237.24 605.48,236.36 605.48,237.92 607.43,237.06 607.43,241.31 609.37,240.48 609.37,243.00 611.32,242.20 611.32,243.95 613.27,243.18 613.27,244.83 615.22,244.08 615.22,245.13 617.17,244.40 617.17,246.38 619.12,245.67 619.12,246.61 621.07,245.92 621.07,248.56 623.02,247.89 623.02,248.72 624.97,248.06 624.97,249.26 626.92,248.62 626.92,250.85 628.87,250.24 628.87,250.59 630.82,249.99 630.82,257.89 632.77,257.34 632.77,259.43 634.72,258.91 636.67,258.40 636.67,259.27 638.61,258.77 638.61,259.61 640.56,259.12 640.56,260.32 642.51,259.84 642.51,260.42 644.46,259.95 644.46,261.06 646.41,260.61 646.41,262.00 648.36,261.56 648.36,263.47 650.31,263.05 650.31,264.08 652.26,263.67 652.26,266.06 654.21,265.68 654.21,266.99 656.16,266.62 656.16,268.15 658.11,267.79 658.11,269.09 660.06,268.75 660.06,269.77 662.01,269.44 662.01,270.81 663.96,270.49 663.96,271.13 665.91,270.83 665.91,272.85 667.85,272.57 667.85,274.31 669.80,274.04 669.80,275.67 671.75,275.42 671.75,277.43 673.70,277.20 673.70,278.60 675.65,278.38 675.65,280.07 677.60,279.87 677.60,282.23 679.55,282.06 679.55,283.87 681.50,283.71 681.50,285.33" fill="none" stroke="#5ec962" stroke-width="1.0" stroke-opacity="0.9" stroke-linejoin="miter"/>
</g>
<rect x="535.30" y="169.30" width="146.20" height="127.20" fill="none" stroke="#000" stroke-width="0.6"/>
<line x1="535.30" y1="296.50" x2="535.30" y2="298.15" stroke="#000" stroke-width="0.6"/>
<line x1="535.30" y1="296.50" x2="533.65" y2="296.50" stroke="#000" stroke-width="0.6"/>
<text transform="translate(535.30,303.00) skewX(0.06)" font-size="4.9" text-anchor="middle">0.0</text>
<text transform="translate(532.00,298.20) skewX(0.06)" font-size="4.9" text-anchor="end">0.0</text>
<line x1="564.54" y1="296.50" x2="564.54" y2="298.15" stroke="#000" stroke-width="0.6"/>
<line x1="535.30" y1="271.44" x2="533.65" y2="271.44" stroke="#000" stroke-width="0.6"/>
<text transform="translate(564.54,303.00) skewX(0.06)" font-size="4.9" text-anchor="middle">0.2</text>
<text transform="translate(532.00,273.14) skewX(0.06)" font-size="4.9" text-anchor="end">0.2</text>
<line x1="593.78" y1="296.50" x2="593.78" y2="298.15" stroke="#000" stroke-width="0.6"/>
<line x1="535.30" y1="246.38" x2="533.65" y2="246.38" stroke="#000" stroke-width="0.6"/>
<text transform="translate(593.78,303.00) skewX(0.06)" font-size="4.9" text-anchor="middle">0.4</text>
<text transform="translate(532.00,248.08) skewX(0.06)" font-size="4.9" text-anchor="end">0.4</text>
<line x1="623.02" y1="296.50" x2="623.02" y2="298.15" stroke="#000" stroke-width="0.6"/>
<line x1="535.30" y1="221.32" x2="533.65" y2="221.32" stroke="#000" stroke-width="0.6"/>
<text transform="translate(623.02,303.00) skewX(0.06)" font-size="4.9" text-anchor="middle">0.6</text>
<text transform="translate(532.00,223.02) skewX(0.06)" font-size="4.9" text-anchor="end">0.6</text>
<line x1="652.26" y1="296.50" x2="652.26" y2="298.15" stroke="#000" stroke-width="0.6"/>
<line x1="535.30" y1="196.26" x2="533.65" y2="196.26" stroke="#000" stroke-width="0.6"/>
<text transform="translate(652.26,303.00) skewX(0.06)" font-size="4.9" text-anchor="middle">0.8</text>
<text transform="translate(532.00,197.96) skewX(0.06)" font-size="4.9" text-anchor="end">0.8</text>
<line x1="681.50" y1="296.50" x2="681.50" y2="298.15" stroke="#000" stroke-width="0.6"/>
<line x1="535.30" y1="171.20" x2="533.65" y2="171.20" stroke="#000" stroke-width="0.6"/>
<text transform="translate(681.50,303.00) skewX(0.06)" font-size="4.9" text-anchor="middle">1.0</text>
<text transform="translate(532.00,172.90) skewX(0.06)" font-size="4.9" text-anchor="end">1.0</text>
<text transform="translate(608.40,308.90) skewX(0.06)" font-size="4.72" text-anchor="middle">Recall</text>
<text transform="translate(523.00,232.90) rotate(-90) skewX(0.06)" font-size="4.72" text-anchor="middle">Precision</text>
<rect x="578.20" y="171.40" width="100.90" height="21.00" rx="0.9" fill="#fff" fill-opacity="0.8" stroke="#d6d6d6" stroke-width="0.5"/>
<line x1="579.40" y1="173.80" x2="587.00" y2="173.80" stroke="#440154" stroke-width="1.3" stroke-opacity="0.6"/>
<text transform="translate(589.40,175.15) skewX(0.06)" font-size="3.85" fill="#505050">LogisticRegression (AP = 0.43 [95% CI: 0.34–0.54])</text>
<line x1="579.40" y1="179.00" x2="587.00" y2="179.00" stroke="#3b528b" stroke-width="1.3" stroke-opacity="0.6"/>
<text transform="translate(589.40,180.35) skewX(0.06)" font-size="3.85" fill="#505050">RandomForest (AP = 0.42 [95% CI: 0.34–0.51])</text>
<line x1="579.40" y1="184.20" x2="587.00" y2="184.20" stroke="#21918c" stroke-width="1.3" stroke-opacity="0.6"/>
<text transform="translate(589.40,185.55) skewX(0.06)" font-size="3.85" fill="#505050">LightGBM (AP = 0.41 [95% CI: 0.31–0.50])</text>
<line x1="579.40" y1="189.40" x2="587.00" y2="189.40" stroke="#5ec962" stroke-width="1.3" stroke-opacity="0.6"/>
<text transform="translate(589.40,190.75) skewX(0.06)" font-size="3.85" fill="#505050">XGBoost (AP = 0.40 [95% CI: 0.30–0.50])</text>
</svg>
</body></html>
